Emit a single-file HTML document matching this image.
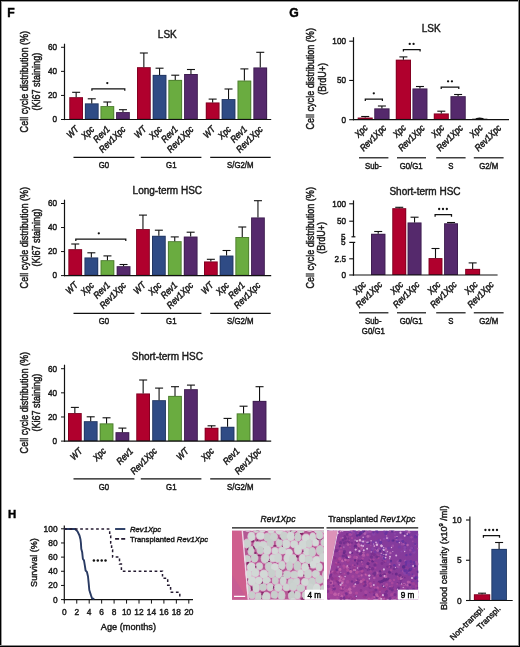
<!DOCTYPE html>
<html><head><meta charset="utf-8"><style>
html,body{margin:0;padding:0;background:#fff;}
body{width:520px;height:647px;overflow:hidden;}
svg{display:block;font-family:"Liberation Sans", sans-serif;}
#w{width:520px;height:647px;will-change:transform;}
</style></head><body><div id="w">
<svg width="520" height="647" viewBox="0 0 520 647">
<rect x="0" y="0" width="520" height="647" fill="#fff"/>
<rect x="69.30" y="97.20" width="13.70" height="22.30" fill="#b0002d"/>
<rect x="69.75" y="97.65" width="12.80" height="21.40" fill="none" stroke="#000" stroke-opacity="0.28" stroke-width="0.9"/>
<line x1="76.15" y1="97.20" x2="76.15" y2="92.30" stroke="#111" stroke-width="1.1" />
<line x1="72.15" y1="92.30" x2="80.15" y2="92.30" stroke="#111" stroke-width="1.1" />
<rect x="84.90" y="103.40" width="13.70" height="16.10" fill="#2f4b85"/>
<rect x="85.35" y="103.85" width="12.80" height="15.20" fill="none" stroke="#000" stroke-opacity="0.28" stroke-width="0.9"/>
<line x1="91.75" y1="103.40" x2="91.75" y2="98.80" stroke="#111" stroke-width="1.1" />
<line x1="87.75" y1="98.80" x2="95.75" y2="98.80" stroke="#111" stroke-width="1.1" />
<rect x="100.50" y="106.10" width="13.70" height="13.40" fill="#6aac40"/>
<rect x="100.95" y="106.55" width="12.80" height="12.50" fill="none" stroke="#000" stroke-opacity="0.28" stroke-width="0.9"/>
<line x1="107.35" y1="106.10" x2="107.35" y2="102.00" stroke="#111" stroke-width="1.1" />
<line x1="103.35" y1="102.00" x2="111.35" y2="102.00" stroke="#111" stroke-width="1.1" />
<rect x="116.10" y="112.10" width="13.70" height="7.40" fill="#55296c"/>
<rect x="116.55" y="112.55" width="12.80" height="6.50" fill="none" stroke="#000" stroke-opacity="0.28" stroke-width="0.9"/>
<line x1="122.95" y1="112.10" x2="122.95" y2="109.70" stroke="#111" stroke-width="1.1" />
<line x1="118.95" y1="109.70" x2="126.95" y2="109.70" stroke="#111" stroke-width="1.1" />
<rect x="137.00" y="67.20" width="13.70" height="52.30" fill="#b0002d"/>
<rect x="137.45" y="67.65" width="12.80" height="51.40" fill="none" stroke="#000" stroke-opacity="0.28" stroke-width="0.9"/>
<line x1="143.85" y1="67.20" x2="143.85" y2="53.00" stroke="#111" stroke-width="1.1" />
<line x1="139.85" y1="53.00" x2="147.85" y2="53.00" stroke="#111" stroke-width="1.1" />
<rect x="152.70" y="74.90" width="13.70" height="44.60" fill="#2f4b85"/>
<rect x="153.15" y="75.35" width="12.80" height="43.70" fill="none" stroke="#000" stroke-opacity="0.28" stroke-width="0.9"/>
<line x1="159.55" y1="74.90" x2="159.55" y2="68.20" stroke="#111" stroke-width="1.1" />
<line x1="155.55" y1="68.20" x2="163.55" y2="68.20" stroke="#111" stroke-width="1.1" />
<rect x="168.40" y="79.90" width="13.70" height="39.60" fill="#6aac40"/>
<rect x="168.85" y="80.35" width="12.80" height="38.70" fill="none" stroke="#000" stroke-opacity="0.28" stroke-width="0.9"/>
<line x1="175.25" y1="79.90" x2="175.25" y2="75.20" stroke="#111" stroke-width="1.1" />
<line x1="171.25" y1="75.20" x2="179.25" y2="75.20" stroke="#111" stroke-width="1.1" />
<rect x="184.10" y="74.00" width="13.70" height="45.50" fill="#55296c"/>
<rect x="184.55" y="74.45" width="12.80" height="44.60" fill="none" stroke="#000" stroke-opacity="0.28" stroke-width="0.9"/>
<line x1="190.95" y1="74.00" x2="190.95" y2="69.50" stroke="#111" stroke-width="1.1" />
<line x1="186.95" y1="69.50" x2="194.95" y2="69.50" stroke="#111" stroke-width="1.1" />
<rect x="205.80" y="102.50" width="13.70" height="17.00" fill="#b0002d"/>
<rect x="206.25" y="102.95" width="12.80" height="16.10" fill="none" stroke="#000" stroke-opacity="0.28" stroke-width="0.9"/>
<line x1="212.65" y1="102.50" x2="212.65" y2="99.10" stroke="#111" stroke-width="1.1" />
<line x1="208.65" y1="99.10" x2="216.65" y2="99.10" stroke="#111" stroke-width="1.1" />
<rect x="221.67" y="99.10" width="13.70" height="20.40" fill="#2f4b85"/>
<rect x="222.12" y="99.55" width="12.80" height="19.50" fill="none" stroke="#000" stroke-opacity="0.28" stroke-width="0.9"/>
<line x1="228.52" y1="99.10" x2="228.52" y2="89.00" stroke="#111" stroke-width="1.1" />
<line x1="224.52" y1="89.00" x2="232.52" y2="89.00" stroke="#111" stroke-width="1.1" />
<rect x="237.54" y="80.60" width="13.70" height="38.90" fill="#6aac40"/>
<rect x="237.99" y="81.05" width="12.80" height="38.00" fill="none" stroke="#000" stroke-opacity="0.28" stroke-width="0.9"/>
<line x1="244.39" y1="80.60" x2="244.39" y2="68.90" stroke="#111" stroke-width="1.1" />
<line x1="240.39" y1="68.90" x2="248.39" y2="68.90" stroke="#111" stroke-width="1.1" />
<rect x="253.41" y="67.50" width="13.70" height="52.00" fill="#55296c"/>
<rect x="253.86" y="67.95" width="12.80" height="51.10" fill="none" stroke="#000" stroke-opacity="0.28" stroke-width="0.9"/>
<line x1="260.26" y1="67.50" x2="260.26" y2="52.30" stroke="#111" stroke-width="1.1" />
<line x1="256.26" y1="52.30" x2="264.26" y2="52.30" stroke="#111" stroke-width="1.1" />
<line x1="64.50" y1="43.70" x2="64.50" y2="120.10" stroke="#111" stroke-width="1.2" />
<line x1="63.90" y1="119.50" x2="271.20" y2="119.50" stroke="#111" stroke-width="1.2" />
<line x1="61.00" y1="119.50" x2="64.50" y2="119.50" stroke="#111" stroke-width="1.0" />
<text x="0" y="0" font-size="8.2" text-anchor="end" transform="translate(57.00 122.30) rotate(0) scale(1 1.17)" fill="#1a1a1a" stroke="#1a1a1a" stroke-width="0.42" >0</text>
<line x1="61.00" y1="95.43" x2="64.50" y2="95.43" stroke="#111" stroke-width="1.0" />
<text x="0" y="0" font-size="8.2" text-anchor="end" transform="translate(57.00 98.23) rotate(0) scale(1 1.17)" fill="#1a1a1a" stroke="#1a1a1a" stroke-width="0.42" >20</text>
<line x1="61.00" y1="71.36" x2="64.50" y2="71.36" stroke="#111" stroke-width="1.0" />
<text x="0" y="0" font-size="8.2" text-anchor="end" transform="translate(57.00 74.16) rotate(0) scale(1 1.17)" fill="#1a1a1a" stroke="#1a1a1a" stroke-width="0.42" >40</text>
<line x1="61.00" y1="47.29" x2="64.50" y2="47.29" stroke="#111" stroke-width="1.0" />
<text x="0" y="0" font-size="8.2" text-anchor="end" transform="translate(57.00 50.09) rotate(0) scale(1 1.17)" fill="#1a1a1a" stroke="#1a1a1a" stroke-width="0.42" >60</text>
<text x="0" y="0" font-size="10.0" text-anchor="middle" transform="translate(167.30 38.10) rotate(0) scale(1 1.0)" fill="#1a1a1a" stroke="#1a1a1a" stroke-width="0.42" >LSK</text>
<text x="0" y="0" font-size="9.05" text-anchor="middle" transform="translate(28.20 81.70) rotate(-90) scale(1 1.17)" fill="#1a1a1a" stroke="#1a1a1a" stroke-width="0.42" >Cell cycle distribution (%)</text>
<text x="0" y="0" font-size="9.05" text-anchor="middle" transform="translate(40.20 81.70) rotate(-90) scale(1 1.17)" fill="#1a1a1a" stroke="#1a1a1a" stroke-width="0.42" >(Ki67 staining)</text>
<text x="0" y="0" font-size="8.15" text-anchor="end" font-style="italic" transform="translate(79.35 129.80) rotate(-45) scale(1 1.17)" fill="#1a1a1a" stroke="#1a1a1a" stroke-width="0.42" >WT</text>
<text x="0" y="0" font-size="8.15" text-anchor="end" font-style="italic" transform="translate(94.95 129.80) rotate(-45) scale(1 1.17)" fill="#1a1a1a" stroke="#1a1a1a" stroke-width="0.42" >Xpc</text>
<text x="0" y="0" font-size="8.15" text-anchor="end" font-style="italic" transform="translate(110.55 129.80) rotate(-45) scale(1 1.17)" fill="#1a1a1a" stroke="#1a1a1a" stroke-width="0.42" >Rev1</text>
<text x="0" y="0" font-size="8.15" text-anchor="end" font-style="italic" transform="translate(126.15 129.80) rotate(-45) scale(1 1.17)" fill="#1a1a1a" stroke="#1a1a1a" stroke-width="0.42" >Rev1Xpc</text>
<text x="0" y="0" font-size="8.15" text-anchor="end" font-style="italic" transform="translate(147.05 129.80) rotate(-45) scale(1 1.17)" fill="#1a1a1a" stroke="#1a1a1a" stroke-width="0.42" >WT</text>
<text x="0" y="0" font-size="8.15" text-anchor="end" font-style="italic" transform="translate(162.75 129.80) rotate(-45) scale(1 1.17)" fill="#1a1a1a" stroke="#1a1a1a" stroke-width="0.42" >Xpc</text>
<text x="0" y="0" font-size="8.15" text-anchor="end" font-style="italic" transform="translate(178.45 129.80) rotate(-45) scale(1 1.17)" fill="#1a1a1a" stroke="#1a1a1a" stroke-width="0.42" >Rev1</text>
<text x="0" y="0" font-size="8.15" text-anchor="end" font-style="italic" transform="translate(194.15 129.80) rotate(-45) scale(1 1.17)" fill="#1a1a1a" stroke="#1a1a1a" stroke-width="0.42" >Rev1Xpc</text>
<text x="0" y="0" font-size="8.15" text-anchor="end" font-style="italic" transform="translate(215.85 129.80) rotate(-45) scale(1 1.17)" fill="#1a1a1a" stroke="#1a1a1a" stroke-width="0.42" >WT</text>
<text x="0" y="0" font-size="8.15" text-anchor="end" font-style="italic" transform="translate(231.72 129.80) rotate(-45) scale(1 1.17)" fill="#1a1a1a" stroke="#1a1a1a" stroke-width="0.42" >Xpc</text>
<text x="0" y="0" font-size="8.15" text-anchor="end" font-style="italic" transform="translate(247.59 129.80) rotate(-45) scale(1 1.17)" fill="#1a1a1a" stroke="#1a1a1a" stroke-width="0.42" >Rev1</text>
<text x="0" y="0" font-size="8.15" text-anchor="end" font-style="italic" transform="translate(263.46 129.80) rotate(-45) scale(1 1.17)" fill="#1a1a1a" stroke="#1a1a1a" stroke-width="0.42" >Rev1Xpc</text>
<line x1="73.50" y1="157.30" x2="134.40" y2="157.30" stroke="#111" stroke-width="1.2" />
<line x1="140.80" y1="157.30" x2="201.40" y2="157.30" stroke="#111" stroke-width="1.2" />
<line x1="210.20" y1="157.30" x2="270.70" y2="157.30" stroke="#111" stroke-width="1.2" />
<text x="0" y="0" font-size="7.8" text-anchor="middle" transform="translate(104.00 168.10) rotate(0) scale(1 1.17)" fill="#1a1a1a" stroke="#1a1a1a" stroke-width="0.42" >G0</text>
<text x="0" y="0" font-size="7.8" text-anchor="middle" transform="translate(171.30 168.10) rotate(0) scale(1 1.17)" fill="#1a1a1a" stroke="#1a1a1a" stroke-width="0.42" >G1</text>
<text x="0" y="0" font-size="7.8" text-anchor="middle" transform="translate(240.30 168.10) rotate(0) scale(1 1.17)" fill="#1a1a1a" stroke="#1a1a1a" stroke-width="0.42" >S/G2/M</text>
<rect x="68.40" y="249.20" width="13.70" height="26.40" fill="#b0002d"/>
<rect x="68.85" y="249.65" width="12.80" height="25.50" fill="none" stroke="#000" stroke-opacity="0.28" stroke-width="0.9"/>
<line x1="75.25" y1="249.20" x2="75.25" y2="244.00" stroke="#111" stroke-width="1.1" />
<line x1="71.25" y1="244.00" x2="79.25" y2="244.00" stroke="#111" stroke-width="1.1" />
<rect x="84.50" y="257.50" width="13.70" height="18.10" fill="#2f4b85"/>
<rect x="84.95" y="257.95" width="12.80" height="17.20" fill="none" stroke="#000" stroke-opacity="0.28" stroke-width="0.9"/>
<line x1="91.35" y1="257.50" x2="91.35" y2="252.80" stroke="#111" stroke-width="1.1" />
<line x1="87.35" y1="252.80" x2="95.35" y2="252.80" stroke="#111" stroke-width="1.1" />
<rect x="100.60" y="260.20" width="13.70" height="15.40" fill="#6aac40"/>
<rect x="101.05" y="260.65" width="12.80" height="14.50" fill="none" stroke="#000" stroke-opacity="0.28" stroke-width="0.9"/>
<line x1="107.45" y1="260.20" x2="107.45" y2="255.90" stroke="#111" stroke-width="1.1" />
<line x1="103.45" y1="255.90" x2="111.45" y2="255.90" stroke="#111" stroke-width="1.1" />
<rect x="116.70" y="266.20" width="13.70" height="9.40" fill="#55296c"/>
<rect x="117.15" y="266.65" width="12.80" height="8.50" fill="none" stroke="#000" stroke-opacity="0.28" stroke-width="0.9"/>
<line x1="123.55" y1="266.20" x2="123.55" y2="264.50" stroke="#111" stroke-width="1.1" />
<line x1="119.55" y1="264.50" x2="127.55" y2="264.50" stroke="#111" stroke-width="1.1" />
<rect x="136.10" y="229.10" width="13.70" height="46.50" fill="#b0002d"/>
<rect x="136.55" y="229.55" width="12.80" height="45.60" fill="none" stroke="#000" stroke-opacity="0.28" stroke-width="0.9"/>
<line x1="142.95" y1="229.10" x2="142.95" y2="215.10" stroke="#111" stroke-width="1.1" />
<line x1="138.95" y1="215.10" x2="146.95" y2="215.10" stroke="#111" stroke-width="1.1" />
<rect x="152.00" y="235.80" width="13.70" height="39.80" fill="#2f4b85"/>
<rect x="152.45" y="236.25" width="12.80" height="38.90" fill="none" stroke="#000" stroke-opacity="0.28" stroke-width="0.9"/>
<line x1="158.85" y1="235.80" x2="158.85" y2="230.20" stroke="#111" stroke-width="1.1" />
<line x1="154.85" y1="230.20" x2="162.85" y2="230.20" stroke="#111" stroke-width="1.1" />
<rect x="167.90" y="241.20" width="13.70" height="34.40" fill="#6aac40"/>
<rect x="168.35" y="241.65" width="12.80" height="33.50" fill="none" stroke="#000" stroke-opacity="0.28" stroke-width="0.9"/>
<line x1="174.75" y1="241.20" x2="174.75" y2="236.90" stroke="#111" stroke-width="1.1" />
<line x1="170.75" y1="236.90" x2="178.75" y2="236.90" stroke="#111" stroke-width="1.1" />
<rect x="183.80" y="236.60" width="13.70" height="39.00" fill="#55296c"/>
<rect x="184.25" y="237.05" width="12.80" height="38.10" fill="none" stroke="#000" stroke-opacity="0.28" stroke-width="0.9"/>
<line x1="190.65" y1="236.60" x2="190.65" y2="232.20" stroke="#111" stroke-width="1.1" />
<line x1="186.65" y1="232.20" x2="194.65" y2="232.20" stroke="#111" stroke-width="1.1" />
<rect x="204.00" y="261.50" width="13.70" height="14.10" fill="#b0002d"/>
<rect x="204.45" y="261.95" width="12.80" height="13.20" fill="none" stroke="#000" stroke-opacity="0.28" stroke-width="0.9"/>
<line x1="210.85" y1="261.50" x2="210.85" y2="259.30" stroke="#111" stroke-width="1.1" />
<line x1="206.85" y1="259.30" x2="214.85" y2="259.30" stroke="#111" stroke-width="1.1" />
<rect x="219.70" y="255.60" width="13.70" height="20.00" fill="#2f4b85"/>
<rect x="220.15" y="256.05" width="12.80" height="19.10" fill="none" stroke="#000" stroke-opacity="0.28" stroke-width="0.9"/>
<line x1="226.55" y1="255.60" x2="226.55" y2="250.50" stroke="#111" stroke-width="1.1" />
<line x1="222.55" y1="250.50" x2="230.55" y2="250.50" stroke="#111" stroke-width="1.1" />
<rect x="235.40" y="237.00" width="13.70" height="38.60" fill="#6aac40"/>
<rect x="235.85" y="237.45" width="12.80" height="37.70" fill="none" stroke="#000" stroke-opacity="0.28" stroke-width="0.9"/>
<line x1="242.25" y1="237.00" x2="242.25" y2="227.00" stroke="#111" stroke-width="1.1" />
<line x1="238.25" y1="227.00" x2="246.25" y2="227.00" stroke="#111" stroke-width="1.1" />
<rect x="251.10" y="217.50" width="13.70" height="58.10" fill="#55296c"/>
<rect x="251.55" y="217.95" width="12.80" height="57.20" fill="none" stroke="#000" stroke-opacity="0.28" stroke-width="0.9"/>
<line x1="257.95" y1="217.50" x2="257.95" y2="200.70" stroke="#111" stroke-width="1.1" />
<line x1="253.95" y1="200.70" x2="261.95" y2="200.70" stroke="#111" stroke-width="1.1" />
<line x1="64.50" y1="199.70" x2="64.50" y2="276.20" stroke="#111" stroke-width="1.2" />
<line x1="63.90" y1="275.60" x2="271.20" y2="275.60" stroke="#111" stroke-width="1.2" />
<line x1="61.00" y1="275.60" x2="64.50" y2="275.60" stroke="#111" stroke-width="1.0" />
<text x="0" y="0" font-size="8.2" text-anchor="end" transform="translate(57.00 278.40) rotate(0) scale(1 1.17)" fill="#1a1a1a" stroke="#1a1a1a" stroke-width="0.42" >0</text>
<line x1="61.00" y1="251.57" x2="64.50" y2="251.57" stroke="#111" stroke-width="1.0" />
<text x="0" y="0" font-size="8.2" text-anchor="end" transform="translate(57.00 254.37) rotate(0) scale(1 1.17)" fill="#1a1a1a" stroke="#1a1a1a" stroke-width="0.42" >20</text>
<line x1="61.00" y1="227.54" x2="64.50" y2="227.54" stroke="#111" stroke-width="1.0" />
<text x="0" y="0" font-size="8.2" text-anchor="end" transform="translate(57.00 230.34) rotate(0) scale(1 1.17)" fill="#1a1a1a" stroke="#1a1a1a" stroke-width="0.42" >40</text>
<line x1="61.00" y1="203.51" x2="64.50" y2="203.51" stroke="#111" stroke-width="1.0" />
<text x="0" y="0" font-size="8.2" text-anchor="end" transform="translate(57.00 206.31) rotate(0) scale(1 1.17)" fill="#1a1a1a" stroke="#1a1a1a" stroke-width="0.42" >60</text>
<text x="0" y="0" font-size="10.0" text-anchor="middle" transform="translate(167.30 194.30) rotate(0) scale(1 1.0)" fill="#1a1a1a" stroke="#1a1a1a" stroke-width="0.42" >Long-term HSC</text>
<text x="0" y="0" font-size="9.05" text-anchor="middle" transform="translate(28.20 237.70) rotate(-90) scale(1 1.17)" fill="#1a1a1a" stroke="#1a1a1a" stroke-width="0.42" >Cell cycle distribution (%)</text>
<text x="0" y="0" font-size="9.05" text-anchor="middle" transform="translate(40.20 237.70) rotate(-90) scale(1 1.17)" fill="#1a1a1a" stroke="#1a1a1a" stroke-width="0.42" >(Ki67 staining)</text>
<text x="0" y="0" font-size="8.15" text-anchor="end" font-style="italic" transform="translate(78.45 285.80) rotate(-45) scale(1 1.17)" fill="#1a1a1a" stroke="#1a1a1a" stroke-width="0.42" >WT</text>
<text x="0" y="0" font-size="8.15" text-anchor="end" font-style="italic" transform="translate(94.55 285.80) rotate(-45) scale(1 1.17)" fill="#1a1a1a" stroke="#1a1a1a" stroke-width="0.42" >Xpc</text>
<text x="0" y="0" font-size="8.15" text-anchor="end" font-style="italic" transform="translate(110.65 285.80) rotate(-45) scale(1 1.17)" fill="#1a1a1a" stroke="#1a1a1a" stroke-width="0.42" >Rev1</text>
<text x="0" y="0" font-size="8.15" text-anchor="end" font-style="italic" transform="translate(126.75 285.80) rotate(-45) scale(1 1.17)" fill="#1a1a1a" stroke="#1a1a1a" stroke-width="0.42" >Rev1Xpc</text>
<text x="0" y="0" font-size="8.15" text-anchor="end" font-style="italic" transform="translate(146.15 285.80) rotate(-45) scale(1 1.17)" fill="#1a1a1a" stroke="#1a1a1a" stroke-width="0.42" >WT</text>
<text x="0" y="0" font-size="8.15" text-anchor="end" font-style="italic" transform="translate(162.05 285.80) rotate(-45) scale(1 1.17)" fill="#1a1a1a" stroke="#1a1a1a" stroke-width="0.42" >Xpc</text>
<text x="0" y="0" font-size="8.15" text-anchor="end" font-style="italic" transform="translate(177.95 285.80) rotate(-45) scale(1 1.17)" fill="#1a1a1a" stroke="#1a1a1a" stroke-width="0.42" >Rev1</text>
<text x="0" y="0" font-size="8.15" text-anchor="end" font-style="italic" transform="translate(193.85 285.80) rotate(-45) scale(1 1.17)" fill="#1a1a1a" stroke="#1a1a1a" stroke-width="0.42" >Rev1Xpc</text>
<text x="0" y="0" font-size="8.15" text-anchor="end" font-style="italic" transform="translate(214.05 285.80) rotate(-45) scale(1 1.17)" fill="#1a1a1a" stroke="#1a1a1a" stroke-width="0.42" >WT</text>
<text x="0" y="0" font-size="8.15" text-anchor="end" font-style="italic" transform="translate(229.75 285.80) rotate(-45) scale(1 1.17)" fill="#1a1a1a" stroke="#1a1a1a" stroke-width="0.42" >Xpc</text>
<text x="0" y="0" font-size="8.15" text-anchor="end" font-style="italic" transform="translate(245.45 285.80) rotate(-45) scale(1 1.17)" fill="#1a1a1a" stroke="#1a1a1a" stroke-width="0.42" >Rev1</text>
<text x="0" y="0" font-size="8.15" text-anchor="end" font-style="italic" transform="translate(261.15 285.80) rotate(-45) scale(1 1.17)" fill="#1a1a1a" stroke="#1a1a1a" stroke-width="0.42" >Rev1Xpc</text>
<line x1="73.50" y1="313.30" x2="134.40" y2="313.30" stroke="#111" stroke-width="1.2" />
<line x1="140.80" y1="313.30" x2="201.40" y2="313.30" stroke="#111" stroke-width="1.2" />
<line x1="210.20" y1="313.30" x2="270.70" y2="313.30" stroke="#111" stroke-width="1.2" />
<text x="0" y="0" font-size="7.8" text-anchor="middle" transform="translate(104.00 324.10) rotate(0) scale(1 1.17)" fill="#1a1a1a" stroke="#1a1a1a" stroke-width="0.42" >G0</text>
<text x="0" y="0" font-size="7.8" text-anchor="middle" transform="translate(171.30 324.10) rotate(0) scale(1 1.17)" fill="#1a1a1a" stroke="#1a1a1a" stroke-width="0.42" >G1</text>
<text x="0" y="0" font-size="7.8" text-anchor="middle" transform="translate(240.30 324.10) rotate(0) scale(1 1.17)" fill="#1a1a1a" stroke="#1a1a1a" stroke-width="0.42" >S/G2/M</text>
<rect x="68.00" y="413.10" width="13.70" height="28.00" fill="#b0002d"/>
<rect x="68.45" y="413.55" width="12.80" height="27.10" fill="none" stroke="#000" stroke-opacity="0.28" stroke-width="0.9"/>
<line x1="74.85" y1="413.10" x2="74.85" y2="407.40" stroke="#111" stroke-width="1.1" />
<line x1="70.85" y1="407.40" x2="78.85" y2="407.40" stroke="#111" stroke-width="1.1" />
<rect x="83.85" y="421.20" width="13.70" height="19.90" fill="#2f4b85"/>
<rect x="84.30" y="421.65" width="12.80" height="19.00" fill="none" stroke="#000" stroke-opacity="0.28" stroke-width="0.9"/>
<line x1="90.70" y1="421.20" x2="90.70" y2="416.80" stroke="#111" stroke-width="1.1" />
<line x1="86.70" y1="416.80" x2="94.70" y2="416.80" stroke="#111" stroke-width="1.1" />
<rect x="99.70" y="423.40" width="13.70" height="17.70" fill="#6aac40"/>
<rect x="100.15" y="423.85" width="12.80" height="16.80" fill="none" stroke="#000" stroke-opacity="0.28" stroke-width="0.9"/>
<line x1="106.55" y1="423.40" x2="106.55" y2="417.80" stroke="#111" stroke-width="1.1" />
<line x1="102.55" y1="417.80" x2="110.55" y2="417.80" stroke="#111" stroke-width="1.1" />
<rect x="115.55" y="432.20" width="13.70" height="8.90" fill="#55296c"/>
<rect x="116.00" y="432.65" width="12.80" height="8.00" fill="none" stroke="#000" stroke-opacity="0.28" stroke-width="0.9"/>
<line x1="122.40" y1="432.20" x2="122.40" y2="428.10" stroke="#111" stroke-width="1.1" />
<line x1="118.40" y1="428.10" x2="126.40" y2="428.10" stroke="#111" stroke-width="1.1" />
<rect x="136.30" y="393.50" width="13.70" height="47.60" fill="#b0002d"/>
<rect x="136.75" y="393.95" width="12.80" height="46.70" fill="none" stroke="#000" stroke-opacity="0.28" stroke-width="0.9"/>
<line x1="143.15" y1="393.50" x2="143.15" y2="380.00" stroke="#111" stroke-width="1.1" />
<line x1="139.15" y1="380.00" x2="147.15" y2="380.00" stroke="#111" stroke-width="1.1" />
<rect x="152.23" y="400.20" width="13.70" height="40.90" fill="#2f4b85"/>
<rect x="152.68" y="400.65" width="12.80" height="40.00" fill="none" stroke="#000" stroke-opacity="0.28" stroke-width="0.9"/>
<line x1="159.08" y1="400.20" x2="159.08" y2="388.10" stroke="#111" stroke-width="1.1" />
<line x1="155.08" y1="388.10" x2="163.08" y2="388.10" stroke="#111" stroke-width="1.1" />
<rect x="168.16" y="395.90" width="13.70" height="45.20" fill="#6aac40"/>
<rect x="168.61" y="396.35" width="12.80" height="44.30" fill="none" stroke="#000" stroke-opacity="0.28" stroke-width="0.9"/>
<line x1="175.01" y1="395.90" x2="175.01" y2="386.70" stroke="#111" stroke-width="1.1" />
<line x1="171.01" y1="386.70" x2="179.01" y2="386.70" stroke="#111" stroke-width="1.1" />
<rect x="184.09" y="389.20" width="13.70" height="51.90" fill="#55296c"/>
<rect x="184.54" y="389.65" width="12.80" height="51.00" fill="none" stroke="#000" stroke-opacity="0.28" stroke-width="0.9"/>
<line x1="190.94" y1="389.20" x2="190.94" y2="385.10" stroke="#111" stroke-width="1.1" />
<line x1="186.94" y1="385.10" x2="194.94" y2="385.10" stroke="#111" stroke-width="1.1" />
<rect x="204.70" y="427.80" width="13.70" height="13.30" fill="#b0002d"/>
<rect x="205.15" y="428.25" width="12.80" height="12.40" fill="none" stroke="#000" stroke-opacity="0.28" stroke-width="0.9"/>
<line x1="211.55" y1="427.80" x2="211.55" y2="425.80" stroke="#111" stroke-width="1.1" />
<line x1="207.55" y1="425.80" x2="215.55" y2="425.80" stroke="#111" stroke-width="1.1" />
<rect x="220.70" y="426.80" width="13.70" height="14.30" fill="#2f4b85"/>
<rect x="221.15" y="427.25" width="12.80" height="13.40" fill="none" stroke="#000" stroke-opacity="0.28" stroke-width="0.9"/>
<line x1="227.55" y1="426.80" x2="227.55" y2="418.40" stroke="#111" stroke-width="1.1" />
<line x1="223.55" y1="418.40" x2="231.55" y2="418.40" stroke="#111" stroke-width="1.1" />
<rect x="236.70" y="413.40" width="13.70" height="27.70" fill="#6aac40"/>
<rect x="237.15" y="413.85" width="12.80" height="26.80" fill="none" stroke="#000" stroke-opacity="0.28" stroke-width="0.9"/>
<line x1="243.55" y1="413.40" x2="243.55" y2="406.20" stroke="#111" stroke-width="1.1" />
<line x1="239.55" y1="406.20" x2="247.55" y2="406.20" stroke="#111" stroke-width="1.1" />
<rect x="252.70" y="400.90" width="13.70" height="40.20" fill="#55296c"/>
<rect x="253.15" y="401.35" width="12.80" height="39.30" fill="none" stroke="#000" stroke-opacity="0.28" stroke-width="0.9"/>
<line x1="259.55" y1="400.90" x2="259.55" y2="386.70" stroke="#111" stroke-width="1.1" />
<line x1="255.55" y1="386.70" x2="263.55" y2="386.70" stroke="#111" stroke-width="1.1" />
<line x1="64.50" y1="364.70" x2="64.50" y2="441.70" stroke="#111" stroke-width="1.2" />
<line x1="63.90" y1="441.10" x2="271.20" y2="441.10" stroke="#111" stroke-width="1.2" />
<line x1="61.00" y1="441.10" x2="64.50" y2="441.10" stroke="#111" stroke-width="1.0" />
<text x="0" y="0" font-size="8.2" text-anchor="end" transform="translate(57.00 443.90) rotate(0) scale(1 1.17)" fill="#1a1a1a" stroke="#1a1a1a" stroke-width="0.42" >0</text>
<line x1="61.00" y1="416.97" x2="64.50" y2="416.97" stroke="#111" stroke-width="1.0" />
<text x="0" y="0" font-size="8.2" text-anchor="end" transform="translate(57.00 419.77) rotate(0) scale(1 1.17)" fill="#1a1a1a" stroke="#1a1a1a" stroke-width="0.42" >20</text>
<line x1="61.00" y1="392.84" x2="64.50" y2="392.84" stroke="#111" stroke-width="1.0" />
<text x="0" y="0" font-size="8.2" text-anchor="end" transform="translate(57.00 395.64) rotate(0) scale(1 1.17)" fill="#1a1a1a" stroke="#1a1a1a" stroke-width="0.42" >40</text>
<line x1="61.00" y1="368.71" x2="64.50" y2="368.71" stroke="#111" stroke-width="1.0" />
<text x="0" y="0" font-size="8.2" text-anchor="end" transform="translate(57.00 371.51) rotate(0) scale(1 1.17)" fill="#1a1a1a" stroke="#1a1a1a" stroke-width="0.42" >60</text>
<text x="0" y="0" font-size="10.0" text-anchor="middle" transform="translate(167.30 359.90) rotate(0) scale(1 1.0)" fill="#1a1a1a" stroke="#1a1a1a" stroke-width="0.42" >Short-term HSC</text>
<text x="0" y="0" font-size="9.05" text-anchor="middle" transform="translate(28.20 402.70) rotate(-90) scale(1 1.17)" fill="#1a1a1a" stroke="#1a1a1a" stroke-width="0.42" >Cell cycle distribution (%)</text>
<text x="0" y="0" font-size="9.05" text-anchor="middle" transform="translate(40.20 402.70) rotate(-90) scale(1 1.17)" fill="#1a1a1a" stroke="#1a1a1a" stroke-width="0.42" >(Ki67 staining)</text>
<text x="0" y="0" font-size="8.15" text-anchor="end" font-style="italic" transform="translate(83.00 451.70) rotate(-45) scale(1 1.17)" fill="#1a1a1a" stroke="#1a1a1a" stroke-width="0.42" >WT</text>
<text x="0" y="0" font-size="8.15" text-anchor="end" font-style="italic" transform="translate(106.70 451.70) rotate(-45) scale(1 1.17)" fill="#1a1a1a" stroke="#1a1a1a" stroke-width="0.42" >Xpc</text>
<text x="0" y="0" font-size="8.15" text-anchor="end" font-style="italic" transform="translate(133.70 451.70) rotate(-45) scale(1 1.17)" fill="#1a1a1a" stroke="#1a1a1a" stroke-width="0.42" >Rev1</text>
<text x="0" y="0" font-size="8.15" text-anchor="end" font-style="italic" transform="translate(157.70 451.70) rotate(-45) scale(1 1.17)" fill="#1a1a1a" stroke="#1a1a1a" stroke-width="0.42" >Rev1Xpc</text>
<text x="0" y="0" font-size="8.15" text-anchor="end" font-style="italic" transform="translate(189.20 451.70) rotate(-45) scale(1 1.17)" fill="#1a1a1a" stroke="#1a1a1a" stroke-width="0.42" >WT</text>
<text x="0" y="0" font-size="8.15" text-anchor="end" font-style="italic" transform="translate(214.70 451.70) rotate(-45) scale(1 1.17)" fill="#1a1a1a" stroke="#1a1a1a" stroke-width="0.42" >Xpc</text>
<text x="0" y="0" font-size="8.15" text-anchor="end" font-style="italic" transform="translate(240.10 451.70) rotate(-45) scale(1 1.17)" fill="#1a1a1a" stroke="#1a1a1a" stroke-width="0.42" >Rev1</text>
<text x="0" y="0" font-size="8.15" text-anchor="end" font-style="italic" transform="translate(261.80 451.70) rotate(-45) scale(1 1.17)" fill="#1a1a1a" stroke="#1a1a1a" stroke-width="0.42" >Rev1Xpc</text>
<line x1="73.50" y1="478.90" x2="134.40" y2="478.90" stroke="#111" stroke-width="1.2" />
<line x1="140.80" y1="478.90" x2="201.40" y2="478.90" stroke="#111" stroke-width="1.2" />
<line x1="210.20" y1="478.90" x2="270.70" y2="478.90" stroke="#111" stroke-width="1.2" />
<text x="0" y="0" font-size="7.8" text-anchor="middle" transform="translate(104.00 489.70) rotate(0) scale(1 1.17)" fill="#1a1a1a" stroke="#1a1a1a" stroke-width="0.42" >G0</text>
<text x="0" y="0" font-size="7.8" text-anchor="middle" transform="translate(171.30 489.70) rotate(0) scale(1 1.17)" fill="#1a1a1a" stroke="#1a1a1a" stroke-width="0.42" >G1</text>
<text x="0" y="0" font-size="7.8" text-anchor="middle" transform="translate(240.30 489.70) rotate(0) scale(1 1.17)" fill="#1a1a1a" stroke="#1a1a1a" stroke-width="0.42" >S/G2/M</text>
<path d="M91.90 90.80 L91.90 88.80 L124.80 88.80 L124.80 90.80" fill="none" stroke="#111" stroke-width="1.25"/>
<circle cx="107.30" cy="83.10" r="1.15" fill="#111"/>
<path d="M75.80 241.00 L75.80 239.00 L125.80 239.00 L125.80 241.00" fill="none" stroke="#111" stroke-width="1.25"/>
<circle cx="98.80" cy="233.30" r="1.15" fill="#111"/>
<text x="0" y="0" font-size="12.2" text-anchor="start" font-weight="bold" transform="translate(7.20 16.70) rotate(0) scale(1 1.0)" fill="#000" stroke="#000" stroke-width="0.42" >F</text>
<text x="0" y="0" font-size="12.2" text-anchor="start" font-weight="bold" transform="translate(289.30 16.70) rotate(0) scale(1 1.0)" fill="#000" stroke="#000" stroke-width="0.42" >G</text>
<text x="0" y="0" font-size="11.4" text-anchor="start" font-weight="bold" transform="translate(8.00 518.30) rotate(0) scale(1 1.0)" fill="#000" stroke="#000" stroke-width="0.42" >H</text>
<rect x="472.20" y="118.70" width="15.20" height="1.10" fill="#111"/>
<path d="M474.5 119.5 Q476 117.6 479.6 117.5 Q483.4 117.6 484.8 119.5 Z" fill="#111"/>
<rect x="357.70" y="117.60" width="15.00" height="2.10" fill="#b0002d"/>
<rect x="358.15" y="118.05" width="14.10" height="1.20" fill="none" stroke="#000" stroke-opacity="0.28" stroke-width="0.9"/>
<line x1="365.20" y1="117.60" x2="365.20" y2="116.50" stroke="#111" stroke-width="1.1" />
<line x1="361.20" y1="116.50" x2="369.20" y2="116.50" stroke="#111" stroke-width="1.1" />
<rect x="374.30" y="108.40" width="15.20" height="11.30" fill="#55296c"/>
<rect x="374.75" y="108.85" width="14.30" height="10.40" fill="none" stroke="#000" stroke-opacity="0.28" stroke-width="0.9"/>
<line x1="381.90" y1="108.40" x2="381.90" y2="106.00" stroke="#111" stroke-width="1.1" />
<line x1="377.90" y1="106.00" x2="385.90" y2="106.00" stroke="#111" stroke-width="1.1" />
<rect x="395.80" y="59.70" width="15.20" height="60.00" fill="#b0002d"/>
<rect x="396.25" y="60.15" width="14.30" height="59.10" fill="none" stroke="#000" stroke-opacity="0.28" stroke-width="0.9"/>
<line x1="403.40" y1="59.70" x2="403.40" y2="56.90" stroke="#111" stroke-width="1.1" />
<line x1="399.40" y1="56.90" x2="407.40" y2="56.90" stroke="#111" stroke-width="1.1" />
<rect x="412.50" y="88.50" width="14.90" height="31.20" fill="#55296c"/>
<rect x="412.95" y="88.95" width="14.00" height="30.30" fill="none" stroke="#000" stroke-opacity="0.28" stroke-width="0.9"/>
<line x1="419.95" y1="88.50" x2="419.95" y2="86.50" stroke="#111" stroke-width="1.1" />
<line x1="415.95" y1="86.50" x2="423.95" y2="86.50" stroke="#111" stroke-width="1.1" />
<rect x="433.80" y="113.50" width="15.00" height="6.20" fill="#b0002d"/>
<rect x="434.25" y="113.95" width="14.10" height="5.30" fill="none" stroke="#000" stroke-opacity="0.28" stroke-width="0.9"/>
<line x1="441.30" y1="113.50" x2="441.30" y2="111.20" stroke="#111" stroke-width="1.1" />
<line x1="437.30" y1="111.20" x2="445.30" y2="111.20" stroke="#111" stroke-width="1.1" />
<rect x="450.50" y="96.20" width="15.20" height="23.50" fill="#55296c"/>
<rect x="450.95" y="96.65" width="14.30" height="22.60" fill="none" stroke="#000" stroke-opacity="0.28" stroke-width="0.9"/>
<line x1="458.10" y1="96.20" x2="458.10" y2="94.50" stroke="#111" stroke-width="1.1" />
<line x1="454.10" y1="94.50" x2="462.10" y2="94.50" stroke="#111" stroke-width="1.1" />
<line x1="353.50" y1="37.20" x2="353.50" y2="120.30" stroke="#111" stroke-width="1.2" />
<line x1="352.90" y1="119.70" x2="509.00" y2="119.70" stroke="#111" stroke-width="1.2" />
<line x1="349.20" y1="41.20" x2="353.50" y2="41.20" stroke="#111" stroke-width="1.1" />
<text x="0" y="0" font-size="8.2" text-anchor="end" transform="translate(346.00 44.20) rotate(0) scale(1 1.17)" fill="#1a1a1a" stroke="#1a1a1a" stroke-width="0.42" >100</text>
<line x1="349.20" y1="80.45" x2="353.50" y2="80.45" stroke="#111" stroke-width="1.1" />
<text x="0" y="0" font-size="8.2" text-anchor="end" transform="translate(346.00 83.45) rotate(0) scale(1 1.17)" fill="#1a1a1a" stroke="#1a1a1a" stroke-width="0.42" >50</text>
<line x1="349.20" y1="119.70" x2="353.50" y2="119.70" stroke="#111" stroke-width="1.1" />
<text x="0" y="0" font-size="8.2" text-anchor="end" transform="translate(346.00 122.70) rotate(0) scale(1 1.17)" fill="#1a1a1a" stroke="#1a1a1a" stroke-width="0.42" >0</text>
<text x="0" y="0" font-size="10.0" text-anchor="middle" transform="translate(431.10 31.90) rotate(0) scale(1 1.0)" fill="#1a1a1a" stroke="#1a1a1a" stroke-width="0.42" >LSK</text>
<text x="0" y="0" font-size="9.05" text-anchor="middle" transform="translate(313.60 78.80) rotate(-90) scale(1 1.17)" fill="#1a1a1a" stroke="#1a1a1a" stroke-width="0.42" >Cell cycle distribution (%)</text>
<text x="0" y="0" font-size="9.05" text-anchor="middle" transform="translate(325.80 78.80) rotate(-90) scale(1 1.17)" fill="#1a1a1a" stroke="#1a1a1a" stroke-width="0.42" >(BrdU+)</text>
<text x="0" y="0" font-size="8.15" text-anchor="end" font-style="italic" transform="translate(368.40 128.40) rotate(-45) scale(1 1.17)" fill="#1a1a1a" stroke="#1a1a1a" stroke-width="0.42" >Xpc</text>
<text x="0" y="0" font-size="8.15" text-anchor="end" font-style="italic" transform="translate(387.00 128.50) rotate(-45) scale(1 1.17)" fill="#1a1a1a" stroke="#1a1a1a" stroke-width="0.42" >Rev1Xpc</text>
<text x="0" y="0" font-size="8.15" text-anchor="end" font-style="italic" transform="translate(406.70 128.40) rotate(-45) scale(1 1.17)" fill="#1a1a1a" stroke="#1a1a1a" stroke-width="0.42" >Xpc</text>
<text x="0" y="0" font-size="8.15" text-anchor="end" font-style="italic" transform="translate(425.30 128.50) rotate(-45) scale(1 1.17)" fill="#1a1a1a" stroke="#1a1a1a" stroke-width="0.42" >Rev1Xpc</text>
<text x="0" y="0" font-size="8.15" text-anchor="end" font-style="italic" transform="translate(445.00 128.40) rotate(-45) scale(1 1.17)" fill="#1a1a1a" stroke="#1a1a1a" stroke-width="0.42" >Xpc</text>
<text x="0" y="0" font-size="8.15" text-anchor="end" font-style="italic" transform="translate(463.60 128.50) rotate(-45) scale(1 1.17)" fill="#1a1a1a" stroke="#1a1a1a" stroke-width="0.42" >Rev1Xpc</text>
<text x="0" y="0" font-size="8.15" text-anchor="end" font-style="italic" transform="translate(483.30 128.40) rotate(-45) scale(1 1.17)" fill="#1a1a1a" stroke="#1a1a1a" stroke-width="0.42" >Xpc</text>
<text x="0" y="0" font-size="8.15" text-anchor="end" font-style="italic" transform="translate(501.90 128.50) rotate(-45) scale(1 1.17)" fill="#1a1a1a" stroke="#1a1a1a" stroke-width="0.42" >Rev1Xpc</text>
<line x1="359.00" y1="157.80" x2="388.40" y2="157.80" stroke="#111" stroke-width="1.2" />
<line x1="397.00" y1="157.80" x2="426.00" y2="157.80" stroke="#111" stroke-width="1.2" />
<line x1="436.20" y1="157.80" x2="465.60" y2="157.80" stroke="#111" stroke-width="1.2" />
<line x1="473.80" y1="157.80" x2="503.60" y2="157.80" stroke="#111" stroke-width="1.2" />
<text x="0" y="0" font-size="7.8" text-anchor="middle" transform="translate(373.30 168.60) rotate(0) scale(1 1.17)" fill="#1a1a1a" stroke="#1a1a1a" stroke-width="0.42" >Sub-</text>
<text x="0" y="0" font-size="7.8" text-anchor="middle" transform="translate(411.20 168.60) rotate(0) scale(1 1.17)" fill="#1a1a1a" stroke="#1a1a1a" stroke-width="0.42" >G0/G1</text>
<text x="0" y="0" font-size="7.8" text-anchor="middle" transform="translate(450.90 168.60) rotate(0) scale(1 1.17)" fill="#1a1a1a" stroke="#1a1a1a" stroke-width="0.42" >S</text>
<text x="0" y="0" font-size="7.8" text-anchor="middle" transform="translate(488.70 168.60) rotate(0) scale(1 1.17)" fill="#1a1a1a" stroke="#1a1a1a" stroke-width="0.42" >G2/M</text>
<path d="M365.30 101.00 L365.30 99.00 L382.40 99.00 L382.40 101.00" fill="none" stroke="#111" stroke-width="1.25"/>
<circle cx="373.80" cy="93.30" r="1.15" fill="#111"/>
<path d="M403.40 51.60 L403.40 49.60 L420.10 49.60 L420.10 51.60" fill="none" stroke="#111" stroke-width="1.25"/>
<circle cx="409.72" cy="43.90" r="1.15" fill="#111"/>
<circle cx="413.57" cy="43.90" r="1.15" fill="#111"/>
<path d="M441.20 89.00 L441.20 87.00 L458.80 87.00 L458.80 89.00" fill="none" stroke="#111" stroke-width="1.25"/>
<circle cx="448.07" cy="81.30" r="1.15" fill="#111"/>
<circle cx="451.93" cy="81.30" r="1.15" fill="#111"/>
<rect x="371.00" y="233.80" width="14.40" height="41.20" fill="#55296c"/>
<rect x="371.45" y="234.25" width="13.50" height="40.30" fill="none" stroke="#000" stroke-opacity="0.28" stroke-width="0.9"/>
<line x1="378.20" y1="233.80" x2="378.20" y2="231.50" stroke="#111" stroke-width="1.1" />
<line x1="374.20" y1="231.50" x2="382.20" y2="231.50" stroke="#111" stroke-width="1.1" />
<rect x="392.30" y="208.20" width="13.90" height="66.80" fill="#b0002d"/>
<rect x="392.75" y="208.65" width="13.00" height="65.90" fill="none" stroke="#000" stroke-opacity="0.28" stroke-width="0.9"/>
<line x1="399.25" y1="208.20" x2="399.25" y2="207.30" stroke="#111" stroke-width="1.1" />
<line x1="395.25" y1="207.30" x2="403.25" y2="207.30" stroke="#111" stroke-width="1.1" />
<rect x="407.60" y="222.50" width="13.90" height="52.50" fill="#55296c"/>
<rect x="408.05" y="222.95" width="13.00" height="51.60" fill="none" stroke="#000" stroke-opacity="0.28" stroke-width="0.9"/>
<line x1="414.55" y1="222.50" x2="414.55" y2="217.20" stroke="#111" stroke-width="1.1" />
<line x1="410.55" y1="217.20" x2="418.55" y2="217.20" stroke="#111" stroke-width="1.1" />
<rect x="428.60" y="258.10" width="13.80" height="16.90" fill="#b0002d"/>
<rect x="429.05" y="258.55" width="12.90" height="16.00" fill="none" stroke="#000" stroke-opacity="0.28" stroke-width="0.9"/>
<line x1="435.50" y1="258.10" x2="435.50" y2="248.50" stroke="#111" stroke-width="1.1" />
<line x1="431.50" y1="248.50" x2="439.50" y2="248.50" stroke="#111" stroke-width="1.1" />
<rect x="444.10" y="223.30" width="13.90" height="51.70" fill="#55296c"/>
<rect x="444.55" y="223.75" width="13.00" height="50.80" fill="none" stroke="#000" stroke-opacity="0.28" stroke-width="0.9"/>
<line x1="451.05" y1="223.30" x2="451.05" y2="222.50" stroke="#111" stroke-width="1.1" />
<line x1="447.05" y1="222.50" x2="455.05" y2="222.50" stroke="#111" stroke-width="1.1" />
<rect x="465.20" y="268.90" width="14.90" height="6.10" fill="#b0002d"/>
<rect x="465.65" y="269.35" width="14.00" height="5.20" fill="none" stroke="#000" stroke-opacity="0.28" stroke-width="0.9"/>
<line x1="472.65" y1="268.90" x2="472.65" y2="262.90" stroke="#111" stroke-width="1.1" />
<line x1="468.65" y1="262.90" x2="476.65" y2="262.90" stroke="#111" stroke-width="1.1" />
<line x1="353.50" y1="200.40" x2="353.50" y2="236.80" stroke="#111" stroke-width="1.2" />
<line x1="351.50" y1="236.80" x2="355.40" y2="236.80" stroke="#111" stroke-width="1.2" />
<line x1="353.50" y1="242.30" x2="353.50" y2="275.60" stroke="#111" stroke-width="1.2" />
<line x1="349.30" y1="242.40" x2="355.20" y2="242.40" stroke="#111" stroke-width="1.2" />
<line x1="352.90" y1="275.00" x2="497.60" y2="275.00" stroke="#111" stroke-width="1.2" />
<line x1="349.20" y1="203.80" x2="353.50" y2="203.80" stroke="#111" stroke-width="1.1" />
<text x="0" y="0" font-size="8.2" text-anchor="end" transform="translate(346.00 206.80) rotate(0) scale(1 1.17)" fill="#1a1a1a" stroke="#1a1a1a" stroke-width="0.42" >100</text>
<line x1="349.20" y1="221.20" x2="353.50" y2="221.20" stroke="#111" stroke-width="1.1" />
<text x="0" y="0" font-size="8.2" text-anchor="end" transform="translate(346.00 224.20) rotate(0) scale(1 1.17)" fill="#1a1a1a" stroke="#1a1a1a" stroke-width="0.42" >50</text>
<line x1="349.20" y1="258.80" x2="353.50" y2="258.80" stroke="#111" stroke-width="1.1" />
<text x="0" y="0" font-size="8.2" text-anchor="end" transform="translate(346.00 261.80) rotate(0) scale(1 1.17)" fill="#1a1a1a" stroke="#1a1a1a" stroke-width="0.42" >2.5</text>
<line x1="349.20" y1="275.00" x2="353.50" y2="275.00" stroke="#111" stroke-width="1.1" />
<text x="0" y="0" font-size="8.2" text-anchor="end" transform="translate(346.00 278.00) rotate(0) scale(1 1.17)" fill="#1a1a1a" stroke="#1a1a1a" stroke-width="0.42" >0</text>
<text x="0" y="0" font-size="8.2" text-anchor="end" transform="translate(345.60 239.60) rotate(0) scale(1 1.17)" fill="#1a1a1a" stroke="#1a1a1a" stroke-width="0.42" >5</text>
<text x="0" y="0" font-size="8.2" text-anchor="end" transform="translate(345.60 245.40) rotate(0) scale(1 1.17)" fill="#1a1a1a" stroke="#1a1a1a" stroke-width="0.42" >5</text>
<text x="0" y="0" font-size="10.0" text-anchor="middle" transform="translate(425.00 195.00) rotate(0) scale(1 1.0)" fill="#1a1a1a" stroke="#1a1a1a" stroke-width="0.42" >Short-term HSC</text>
<text x="0" y="0" font-size="9.05" text-anchor="middle" transform="translate(313.60 237.80) rotate(-90) scale(1 1.17)" fill="#1a1a1a" stroke="#1a1a1a" stroke-width="0.42" >Cell cycle distribution (%)</text>
<text x="0" y="0" font-size="9.05" text-anchor="middle" transform="translate(325.00 237.90) rotate(-90) scale(1 1.17)" fill="#1a1a1a" stroke="#1a1a1a" stroke-width="0.42" >(BrdU+)</text>
<text x="0" y="0" font-size="8.15" text-anchor="end" font-style="italic" transform="translate(366.70 285.00) rotate(-45) scale(1 1.17)" fill="#1a1a1a" stroke="#1a1a1a" stroke-width="0.42" >Xpc</text>
<text x="0" y="0" font-size="8.15" text-anchor="end" font-style="italic" transform="translate(382.90 285.10) rotate(-45) scale(1 1.17)" fill="#1a1a1a" stroke="#1a1a1a" stroke-width="0.42" >Rev1Xpc</text>
<text x="0" y="0" font-size="8.15" text-anchor="end" font-style="italic" transform="translate(403.90 285.00) rotate(-45) scale(1 1.17)" fill="#1a1a1a" stroke="#1a1a1a" stroke-width="0.42" >Xpc</text>
<text x="0" y="0" font-size="8.15" text-anchor="end" font-style="italic" transform="translate(420.10 285.10) rotate(-45) scale(1 1.17)" fill="#1a1a1a" stroke="#1a1a1a" stroke-width="0.42" >Rev1Xpc</text>
<text x="0" y="0" font-size="8.15" text-anchor="end" font-style="italic" transform="translate(441.10 285.00) rotate(-45) scale(1 1.17)" fill="#1a1a1a" stroke="#1a1a1a" stroke-width="0.42" >Xpc</text>
<text x="0" y="0" font-size="8.15" text-anchor="end" font-style="italic" transform="translate(457.30 285.10) rotate(-45) scale(1 1.17)" fill="#1a1a1a" stroke="#1a1a1a" stroke-width="0.42" >Rev1Xpc</text>
<text x="0" y="0" font-size="8.15" text-anchor="end" font-style="italic" transform="translate(478.30 285.00) rotate(-45) scale(1 1.17)" fill="#1a1a1a" stroke="#1a1a1a" stroke-width="0.42" >Xpc</text>
<text x="0" y="0" font-size="8.15" text-anchor="end" font-style="italic" transform="translate(494.50 285.10) rotate(-45) scale(1 1.17)" fill="#1a1a1a" stroke="#1a1a1a" stroke-width="0.42" >Rev1Xpc</text>
<line x1="359.00" y1="312.80" x2="388.40" y2="312.80" stroke="#111" stroke-width="1.2" />
<line x1="397.00" y1="312.80" x2="426.00" y2="312.80" stroke="#111" stroke-width="1.2" />
<line x1="436.20" y1="312.80" x2="465.60" y2="312.80" stroke="#111" stroke-width="1.2" />
<line x1="473.80" y1="312.80" x2="503.60" y2="312.80" stroke="#111" stroke-width="1.2" />
<text x="0" y="0" font-size="7.8" text-anchor="middle" transform="translate(373.30 324.00) rotate(0) scale(1 1.17)" fill="#1a1a1a" stroke="#1a1a1a" stroke-width="0.42" >Sub-</text>
<text x="0" y="0" font-size="7.8" text-anchor="middle" transform="translate(373.30 334.10) rotate(0) scale(1 1.17)" fill="#1a1a1a" stroke="#1a1a1a" stroke-width="0.42" >G0/G1</text>
<text x="0" y="0" font-size="7.8" text-anchor="middle" transform="translate(411.20 324.00) rotate(0) scale(1 1.17)" fill="#1a1a1a" stroke="#1a1a1a" stroke-width="0.42" >G0/G1</text>
<text x="0" y="0" font-size="7.8" text-anchor="middle" transform="translate(450.90 324.00) rotate(0) scale(1 1.17)" fill="#1a1a1a" stroke="#1a1a1a" stroke-width="0.42" >S</text>
<text x="0" y="0" font-size="7.8" text-anchor="middle" transform="translate(488.70 324.00) rotate(0) scale(1 1.17)" fill="#1a1a1a" stroke="#1a1a1a" stroke-width="0.42" >G2/M</text>
<path d="M435.10 216.70 L435.10 214.70 L451.50 214.70 L451.50 216.70" fill="none" stroke="#111" stroke-width="1.25"/>
<circle cx="439.15" cy="209.00" r="1.15" fill="#111"/>
<circle cx="443.00" cy="209.00" r="1.15" fill="#111"/>
<circle cx="446.85" cy="209.00" r="1.15" fill="#111"/>
<line x1="64.30" y1="525.40" x2="64.30" y2="600.20" stroke="#111" stroke-width="1.2" />
<line x1="63.70" y1="599.60" x2="193.00" y2="599.60" stroke="#111" stroke-width="1.2" />
<line x1="61.00" y1="599.60" x2="64.30" y2="599.60" stroke="#111" stroke-width="1.0" />
<text x="0" y="0" font-size="8.4" text-anchor="end" transform="translate(57.60 602.60) rotate(0) scale(1 1.0)" fill="#1a1a1a" stroke="#1a1a1a" stroke-width="0.42" >0</text>
<line x1="61.00" y1="585.44" x2="64.30" y2="585.44" stroke="#111" stroke-width="1.0" />
<text x="0" y="0" font-size="8.4" text-anchor="end" transform="translate(57.60 588.44) rotate(0) scale(1 1.0)" fill="#1a1a1a" stroke="#1a1a1a" stroke-width="0.42" >20</text>
<line x1="61.00" y1="571.28" x2="64.30" y2="571.28" stroke="#111" stroke-width="1.0" />
<text x="0" y="0" font-size="8.4" text-anchor="end" transform="translate(57.60 574.28) rotate(0) scale(1 1.0)" fill="#1a1a1a" stroke="#1a1a1a" stroke-width="0.42" >40</text>
<line x1="61.00" y1="557.12" x2="64.30" y2="557.12" stroke="#111" stroke-width="1.0" />
<text x="0" y="0" font-size="8.4" text-anchor="end" transform="translate(57.60 560.12) rotate(0) scale(1 1.0)" fill="#1a1a1a" stroke="#1a1a1a" stroke-width="0.42" >60</text>
<line x1="61.00" y1="542.96" x2="64.30" y2="542.96" stroke="#111" stroke-width="1.0" />
<text x="0" y="0" font-size="8.4" text-anchor="end" transform="translate(57.60 545.96) rotate(0) scale(1 1.0)" fill="#1a1a1a" stroke="#1a1a1a" stroke-width="0.42" >80</text>
<line x1="61.00" y1="528.80" x2="64.30" y2="528.80" stroke="#111" stroke-width="1.0" />
<text x="0" y="0" font-size="8.4" text-anchor="end" transform="translate(57.60 531.80) rotate(0) scale(1 1.0)" fill="#1a1a1a" stroke="#1a1a1a" stroke-width="0.42" >100</text>
<line x1="64.30" y1="599.60" x2="64.30" y2="603.60" stroke="#111" stroke-width="1.0" />
<text x="0" y="0" font-size="8.4" text-anchor="middle" transform="translate(64.30 614.80) rotate(0) scale(1 1.0)" fill="#1a1a1a" stroke="#1a1a1a" stroke-width="0.42" >0</text>
<line x1="76.75" y1="599.60" x2="76.75" y2="603.60" stroke="#111" stroke-width="1.0" />
<text x="0" y="0" font-size="8.4" text-anchor="middle" transform="translate(76.75 614.80) rotate(0) scale(1 1.0)" fill="#1a1a1a" stroke="#1a1a1a" stroke-width="0.42" >2</text>
<line x1="89.20" y1="599.60" x2="89.20" y2="603.60" stroke="#111" stroke-width="1.0" />
<text x="0" y="0" font-size="8.4" text-anchor="middle" transform="translate(89.20 614.80) rotate(0) scale(1 1.0)" fill="#1a1a1a" stroke="#1a1a1a" stroke-width="0.42" >4</text>
<line x1="101.65" y1="599.60" x2="101.65" y2="603.60" stroke="#111" stroke-width="1.0" />
<text x="0" y="0" font-size="8.4" text-anchor="middle" transform="translate(101.65 614.80) rotate(0) scale(1 1.0)" fill="#1a1a1a" stroke="#1a1a1a" stroke-width="0.42" >6</text>
<line x1="114.10" y1="599.60" x2="114.10" y2="603.60" stroke="#111" stroke-width="1.0" />
<text x="0" y="0" font-size="8.4" text-anchor="middle" transform="translate(114.10 614.80) rotate(0) scale(1 1.0)" fill="#1a1a1a" stroke="#1a1a1a" stroke-width="0.42" >8</text>
<line x1="126.55" y1="599.60" x2="126.55" y2="603.60" stroke="#111" stroke-width="1.0" />
<text x="0" y="0" font-size="8.4" text-anchor="middle" transform="translate(126.55 614.80) rotate(0) scale(1 1.0)" fill="#1a1a1a" stroke="#1a1a1a" stroke-width="0.42" >10</text>
<line x1="139.00" y1="599.60" x2="139.00" y2="603.60" stroke="#111" stroke-width="1.0" />
<text x="0" y="0" font-size="8.4" text-anchor="middle" transform="translate(139.00 614.80) rotate(0) scale(1 1.0)" fill="#1a1a1a" stroke="#1a1a1a" stroke-width="0.42" >12</text>
<line x1="151.45" y1="599.60" x2="151.45" y2="603.60" stroke="#111" stroke-width="1.0" />
<text x="0" y="0" font-size="8.4" text-anchor="middle" transform="translate(151.45 614.80) rotate(0) scale(1 1.0)" fill="#1a1a1a" stroke="#1a1a1a" stroke-width="0.42" >14</text>
<line x1="163.90" y1="599.60" x2="163.90" y2="603.60" stroke="#111" stroke-width="1.0" />
<text x="0" y="0" font-size="8.4" text-anchor="middle" transform="translate(163.90 614.80) rotate(0) scale(1 1.0)" fill="#1a1a1a" stroke="#1a1a1a" stroke-width="0.42" >16</text>
<line x1="176.35" y1="599.60" x2="176.35" y2="603.60" stroke="#111" stroke-width="1.0" />
<text x="0" y="0" font-size="8.4" text-anchor="middle" transform="translate(176.35 614.80) rotate(0) scale(1 1.0)" fill="#1a1a1a" stroke="#1a1a1a" stroke-width="0.42" >18</text>
<line x1="188.80" y1="599.60" x2="188.80" y2="603.60" stroke="#111" stroke-width="1.0" />
<text x="0" y="0" font-size="8.4" text-anchor="middle" transform="translate(188.80 614.80) rotate(0) scale(1 1.0)" fill="#1a1a1a" stroke="#1a1a1a" stroke-width="0.42" >20</text>
<text x="0" y="0" font-size="9.2" text-anchor="middle" transform="translate(128.40 629.90) rotate(0) scale(1 1.0)" fill="#1a1a1a" stroke="#1a1a1a" stroke-width="0.42" >Age (months)</text>
<text x="0" y="0" font-size="9.05" text-anchor="middle" transform="translate(37.00 562.50) rotate(-90) scale(1 1.0)" fill="#1a1a1a" stroke="#1a1a1a" stroke-width="0.42" >Survival (%)</text>
<polyline points="64.3,529 75.1,529 77.5,531.4 79.5,535.5 80.5,539.5 80.9,542.9 81.3,549 82.2,552.3 82.9,559 84,560.4 84.9,565.8 85.6,570.5 86.9,571.8 88,576.5 88.7,583.3 89.3,590 91,595.4 92,598.3 94.3,598.9" fill="none" stroke="#293a62" stroke-width="1.9" stroke-linejoin="round"/>
<polyline points="64.3,529 109.7,529 109.7,536 110.7,536 110.7,543 111.6,543 111.6,550 112.6,550 112.6,557.1 119.5,557.1 119.5,564 121.4,564 121.4,571.2 162.5,571.2 162.5,578.2 167.7,578.2 167.7,585.2 170.6,585.2 170.6,592.3 179.8,592.3 179.8,599.6" fill="none" stroke="#241a30" stroke-width="1.5" stroke-dasharray="2.7 2.6"/>
<circle cx="93.9" cy="560.5" r="1.25" fill="#111"/>
<circle cx="97.8" cy="560.5" r="1.25" fill="#111"/>
<circle cx="101.7" cy="560.5" r="1.25" fill="#111"/>
<circle cx="105.5" cy="560.5" r="1.25" fill="#111"/>
<line x1="115.10" y1="529.00" x2="125.30" y2="529.00" stroke="#293a62" stroke-width="1.9" />
<text x="0" y="0" font-size="7.7" text-anchor="start" font-style="italic" transform="translate(130.00 531.70) rotate(0) scale(1 1.0)" fill="#1a1a1a" stroke="#1a1a1a" stroke-width="0.42" >Rev1Xpc</text>
<line x1="115.10" y1="538.90" x2="125.20" y2="538.90" stroke="#241a30" stroke-width="1.6" stroke-dasharray="4 2.1"/>
<text x="0" y="0" font-size="7.7" text-anchor="start" transform="translate(130.10 541.60) rotate(0) scale(1 1.0)" fill="#1a1a1a" stroke="#1a1a1a" stroke-width="0.42" >Transplanted <tspan font-style="italic">Rev1Xpc</tspan></text>
<text x="0" y="0" font-size="8.6" text-anchor="middle" font-style="italic" transform="translate(278.00 521.90) rotate(0) scale(1 1.0)" fill="#1a1a1a" stroke="#1a1a1a" stroke-width="0.42" >Rev1Xpc</text>
<text x="0" y="0" font-size="8.6" text-anchor="middle" transform="translate(371.70 521.90) rotate(0) scale(1 1.0)" fill="#1a1a1a" stroke="#1a1a1a" stroke-width="0.42" >Transplanted <tspan font-style="italic">Rev1Xpc</tspan></text>
<line x1="232.00" y1="527.90" x2="324.00" y2="527.90" stroke="#111" stroke-width="1.3" />
<line x1="326.50" y1="527.90" x2="418.20" y2="527.90" stroke="#111" stroke-width="1.3" />
<clipPath id="c1"><rect x="232" y="530.5" width="92" height="69.3"/></clipPath>
<clipPath id="c2"><rect x="327" y="530.5" width="91.3" height="69.3"/></clipPath>
<g clip-path="url(#c1)">
<rect x="232.00" y="530.50" width="92.00" height="69.30" fill="#b45893"/>
<ellipse cx="247.9" cy="527.9" rx="4.3" ry="4.1" fill="#dcaccc"/>
<ellipse cx="256.2" cy="528.6" rx="3.7" ry="4.7" fill="#dcaccc"/>
<ellipse cx="262.2" cy="528.8" rx="3.7" ry="4.1" fill="#dcaccc"/>
<ellipse cx="271.1" cy="530.0" rx="3.7" ry="4.3" fill="#dcaccc"/>
<ellipse cx="279.3" cy="530.4" rx="4.2" ry="4.5" fill="#dcaccc"/>
<ellipse cx="288.0" cy="527.5" rx="4.5" ry="4.4" fill="#dcaccc"/>
<ellipse cx="293.0" cy="527.8" rx="3.9" ry="5.1" fill="#dcaccc"/>
<ellipse cx="300.7" cy="529.3" rx="4.3" ry="4.5" fill="#dcaccc"/>
<ellipse cx="309.5" cy="527.6" rx="3.7" ry="4.3" fill="#dcaccc"/>
<ellipse cx="317.5" cy="528.8" rx="3.9" ry="4.8" fill="#dcaccc"/>
<ellipse cx="324.4" cy="528.4" rx="4.5" ry="4.9" fill="#dcaccc"/>
<ellipse cx="251.5" cy="536.6" rx="4.2" ry="5.1" fill="#dcaccc"/>
<ellipse cx="260.6" cy="535.7" rx="4.7" ry="4.2" fill="#dcaccc"/>
<ellipse cx="267.2" cy="537.2" rx="3.8" ry="4.6" fill="#dcaccc"/>
<ellipse cx="273.6" cy="536.9" rx="4.4" ry="4.7" fill="#dcaccc"/>
<ellipse cx="283.9" cy="535.8" rx="4.4" ry="4.8" fill="#dcaccc"/>
<ellipse cx="290.6" cy="536.3" rx="4.5" ry="5.2" fill="#dcaccc"/>
<ellipse cx="297.8" cy="536.9" rx="3.7" ry="4.9" fill="#dcaccc"/>
<ellipse cx="306.0" cy="538.0" rx="4.5" ry="4.4" fill="#dcaccc"/>
<ellipse cx="312.7" cy="536.9" rx="3.6" ry="4.6" fill="#dcaccc"/>
<ellipse cx="319.6" cy="535.2" rx="3.7" ry="5.0" fill="#dcaccc"/>
<ellipse cx="327.1" cy="535.6" rx="4.0" ry="5.1" fill="#dcaccc"/>
<ellipse cx="247.2" cy="543.6" rx="4.2" ry="5.1" fill="#dcaccc"/>
<ellipse cx="257.1" cy="545.0" rx="3.9" ry="4.5" fill="#dcaccc"/>
<ellipse cx="263.2" cy="545.0" rx="4.7" ry="4.2" fill="#dcaccc"/>
<ellipse cx="270.3" cy="542.9" rx="3.9" ry="4.6" fill="#dcaccc"/>
<ellipse cx="279.2" cy="543.0" rx="3.6" ry="4.5" fill="#dcaccc"/>
<ellipse cx="286.1" cy="544.0" rx="4.6" ry="4.9" fill="#dcaccc"/>
<ellipse cx="294.1" cy="544.2" rx="4.3" ry="4.1" fill="#dcaccc"/>
<ellipse cx="303.0" cy="544.7" rx="4.6" ry="5.0" fill="#dcaccc"/>
<ellipse cx="309.0" cy="543.5" rx="3.7" ry="4.8" fill="#dcaccc"/>
<ellipse cx="315.5" cy="542.4" rx="3.8" ry="4.2" fill="#dcaccc"/>
<ellipse cx="324.0" cy="542.4" rx="3.6" ry="4.2" fill="#dcaccc"/>
<ellipse cx="251.0" cy="550.8" rx="3.6" ry="5.1" fill="#dcaccc"/>
<ellipse cx="260.3" cy="550.1" rx="3.9" ry="4.5" fill="#dcaccc"/>
<ellipse cx="267.1" cy="550.0" rx="4.5" ry="5.3" fill="#dcaccc"/>
<ellipse cx="275.0" cy="551.1" rx="3.7" ry="4.1" fill="#dcaccc"/>
<ellipse cx="282.2" cy="550.4" rx="4.5" ry="4.2" fill="#dcaccc"/>
<ellipse cx="288.8" cy="552.6" rx="4.2" ry="4.2" fill="#dcaccc"/>
<ellipse cx="298.0" cy="549.7" rx="4.2" ry="5.3" fill="#dcaccc"/>
<ellipse cx="306.7" cy="551.8" rx="3.9" ry="4.5" fill="#dcaccc"/>
<ellipse cx="312.0" cy="552.1" rx="4.2" ry="5.0" fill="#dcaccc"/>
<ellipse cx="320.2" cy="550.3" rx="4.5" ry="5.3" fill="#dcaccc"/>
<ellipse cx="329.4" cy="552.2" rx="4.5" ry="5.0" fill="#dcaccc"/>
<ellipse cx="247.6" cy="558.7" rx="4.0" ry="4.0" fill="#dcaccc"/>
<ellipse cx="254.6" cy="557.9" rx="3.9" ry="4.9" fill="#dcaccc"/>
<ellipse cx="265.2" cy="558.4" rx="4.6" ry="5.3" fill="#dcaccc"/>
<ellipse cx="272.8" cy="558.2" rx="3.8" ry="4.3" fill="#dcaccc"/>
<ellipse cx="277.9" cy="557.7" rx="4.3" ry="5.2" fill="#dcaccc"/>
<ellipse cx="287.6" cy="558.5" rx="4.3" ry="5.0" fill="#dcaccc"/>
<ellipse cx="292.8" cy="559.1" rx="4.6" ry="5.0" fill="#dcaccc"/>
<ellipse cx="302.5" cy="558.5" rx="3.8" ry="5.0" fill="#dcaccc"/>
<ellipse cx="308.8" cy="559.6" rx="4.7" ry="4.5" fill="#dcaccc"/>
<ellipse cx="316.6" cy="560.0" rx="4.4" ry="4.2" fill="#dcaccc"/>
<ellipse cx="323.3" cy="557.5" rx="4.6" ry="5.0" fill="#dcaccc"/>
<ellipse cx="251.2" cy="567.0" rx="4.7" ry="4.9" fill="#dcaccc"/>
<ellipse cx="259.4" cy="566.2" rx="3.7" ry="4.0" fill="#dcaccc"/>
<ellipse cx="269.0" cy="566.5" rx="4.2" ry="5.2" fill="#dcaccc"/>
<ellipse cx="274.9" cy="567.2" rx="4.5" ry="4.3" fill="#dcaccc"/>
<ellipse cx="281.9" cy="565.3" rx="3.9" ry="4.8" fill="#dcaccc"/>
<ellipse cx="289.5" cy="565.7" rx="3.7" ry="5.2" fill="#dcaccc"/>
<ellipse cx="297.4" cy="565.9" rx="4.2" ry="5.2" fill="#dcaccc"/>
<ellipse cx="305.2" cy="567.3" rx="4.2" ry="4.7" fill="#dcaccc"/>
<ellipse cx="313.2" cy="564.5" rx="4.1" ry="4.2" fill="#dcaccc"/>
<ellipse cx="319.1" cy="567.0" rx="3.8" ry="4.6" fill="#dcaccc"/>
<ellipse cx="329.0" cy="566.2" rx="4.0" ry="4.7" fill="#dcaccc"/>
<ellipse cx="248.7" cy="574.3" rx="3.7" ry="4.7" fill="#dcaccc"/>
<ellipse cx="255.3" cy="572.7" rx="4.4" ry="4.7" fill="#dcaccc"/>
<ellipse cx="263.9" cy="574.2" rx="4.6" ry="4.6" fill="#dcaccc"/>
<ellipse cx="271.7" cy="573.4" rx="4.2" ry="4.9" fill="#dcaccc"/>
<ellipse cx="278.7" cy="573.5" rx="4.1" ry="5.2" fill="#dcaccc"/>
<ellipse cx="287.1" cy="574.6" rx="4.6" ry="4.3" fill="#dcaccc"/>
<ellipse cx="294.3" cy="574.8" rx="4.5" ry="4.2" fill="#dcaccc"/>
<ellipse cx="300.5" cy="573.2" rx="3.7" ry="4.3" fill="#dcaccc"/>
<ellipse cx="307.9" cy="573.9" rx="4.5" ry="5.2" fill="#dcaccc"/>
<ellipse cx="315.8" cy="574.1" rx="4.3" ry="4.2" fill="#dcaccc"/>
<ellipse cx="325.7" cy="574.9" rx="3.8" ry="5.2" fill="#dcaccc"/>
<ellipse cx="252.0" cy="580.8" rx="4.7" ry="5.1" fill="#dcaccc"/>
<ellipse cx="258.8" cy="580.6" rx="4.2" ry="4.4" fill="#dcaccc"/>
<ellipse cx="266.5" cy="580.2" rx="4.4" ry="4.0" fill="#dcaccc"/>
<ellipse cx="275.3" cy="580.6" rx="3.6" ry="4.4" fill="#dcaccc"/>
<ellipse cx="283.1" cy="580.8" rx="3.7" ry="5.3" fill="#dcaccc"/>
<ellipse cx="291.2" cy="582.3" rx="3.7" ry="4.3" fill="#dcaccc"/>
<ellipse cx="296.4" cy="581.7" rx="3.9" ry="4.2" fill="#dcaccc"/>
<ellipse cx="305.3" cy="582.1" rx="4.5" ry="4.3" fill="#dcaccc"/>
<ellipse cx="312.0" cy="582.1" rx="4.2" ry="4.9" fill="#dcaccc"/>
<ellipse cx="319.4" cy="579.4" rx="4.4" ry="4.6" fill="#dcaccc"/>
<ellipse cx="326.9" cy="582.2" rx="4.3" ry="5.0" fill="#dcaccc"/>
<ellipse cx="247.2" cy="589.3" rx="3.7" ry="5.1" fill="#dcaccc"/>
<ellipse cx="256.0" cy="587.7" rx="4.2" ry="5.2" fill="#dcaccc"/>
<ellipse cx="263.0" cy="587.0" rx="4.2" ry="4.3" fill="#dcaccc"/>
<ellipse cx="270.1" cy="587.1" rx="3.7" ry="4.3" fill="#dcaccc"/>
<ellipse cx="278.3" cy="587.6" rx="4.4" ry="4.4" fill="#dcaccc"/>
<ellipse cx="286.5" cy="587.2" rx="4.0" ry="4.0" fill="#dcaccc"/>
<ellipse cx="293.3" cy="586.6" rx="4.4" ry="4.7" fill="#dcaccc"/>
<ellipse cx="300.7" cy="588.1" rx="4.6" ry="4.1" fill="#dcaccc"/>
<ellipse cx="310.3" cy="588.0" rx="4.1" ry="5.1" fill="#dcaccc"/>
<ellipse cx="316.6" cy="588.2" rx="4.4" ry="5.3" fill="#dcaccc"/>
<ellipse cx="324.0" cy="589.3" rx="4.4" ry="4.8" fill="#dcaccc"/>
<ellipse cx="252.0" cy="595.1" rx="3.7" ry="4.2" fill="#dcaccc"/>
<ellipse cx="258.5" cy="596.4" rx="3.9" ry="4.2" fill="#dcaccc"/>
<ellipse cx="266.2" cy="596.7" rx="4.6" ry="4.9" fill="#dcaccc"/>
<ellipse cx="274.4" cy="594.8" rx="3.9" ry="4.6" fill="#dcaccc"/>
<ellipse cx="281.6" cy="595.4" rx="3.9" ry="5.3" fill="#dcaccc"/>
<ellipse cx="291.8" cy="595.8" rx="3.9" ry="5.3" fill="#dcaccc"/>
<ellipse cx="297.3" cy="595.1" rx="3.6" ry="4.5" fill="#dcaccc"/>
<ellipse cx="305.4" cy="595.6" rx="3.8" ry="4.7" fill="#dcaccc"/>
<ellipse cx="311.5" cy="594.8" rx="3.7" ry="4.5" fill="#dcaccc"/>
<ellipse cx="319.2" cy="594.1" rx="3.9" ry="4.3" fill="#dcaccc"/>
<ellipse cx="328.6" cy="595.7" rx="4.4" ry="4.9" fill="#dcaccc"/>
<ellipse cx="249.2" cy="604.2" rx="4.0" ry="4.4" fill="#dcaccc"/>
<ellipse cx="257.7" cy="601.9" rx="4.4" ry="4.8" fill="#dcaccc"/>
<ellipse cx="262.2" cy="604.1" rx="4.6" ry="4.8" fill="#dcaccc"/>
<ellipse cx="272.0" cy="604.0" rx="3.8" ry="4.7" fill="#dcaccc"/>
<ellipse cx="278.9" cy="604.1" rx="4.5" ry="5.1" fill="#dcaccc"/>
<ellipse cx="286.8" cy="604.3" rx="4.4" ry="4.9" fill="#dcaccc"/>
<ellipse cx="293.2" cy="601.5" rx="3.7" ry="4.5" fill="#dcaccc"/>
<ellipse cx="300.4" cy="604.1" rx="4.2" ry="4.8" fill="#dcaccc"/>
<ellipse cx="309.7" cy="603.6" rx="4.1" ry="4.0" fill="#dcaccc"/>
<ellipse cx="317.9" cy="603.8" rx="4.2" ry="4.7" fill="#dcaccc"/>
<ellipse cx="325.0" cy="601.6" rx="4.4" ry="4.3" fill="#dcaccc"/>
<ellipse cx="250.0" cy="548.6" rx="1.8" ry="1.1" fill="#86286a"/>
<ellipse cx="303.2" cy="598.3" rx="1.5" ry="1.3" fill="#86286a"/>
<ellipse cx="282.3" cy="577.9" rx="1.9" ry="1.7" fill="#86286a"/>
<ellipse cx="295.4" cy="535.4" rx="1.0" ry="1.2" fill="#86286a"/>
<ellipse cx="303.5" cy="551.3" rx="1.6" ry="0.8" fill="#86286a"/>
<ellipse cx="248.9" cy="548.8" rx="1.7" ry="1.8" fill="#86286a"/>
<ellipse cx="298.1" cy="550.4" rx="1.5" ry="1.5" fill="#86286a"/>
<ellipse cx="281.3" cy="538.3" rx="2.1" ry="1.1" fill="#86286a"/>
<ellipse cx="322.3" cy="595.5" rx="0.8" ry="1.4" fill="#86286a"/>
<ellipse cx="309.6" cy="597.8" rx="1.4" ry="1.2" fill="#86286a"/>
<ellipse cx="260.8" cy="596.2" rx="1.1" ry="1.6" fill="#86286a"/>
<ellipse cx="255.3" cy="566.7" rx="2.1" ry="1.0" fill="#86286a"/>
<ellipse cx="309.6" cy="565.6" rx="2.0" ry="1.8" fill="#86286a"/>
<ellipse cx="262.5" cy="592.8" rx="1.5" ry="0.8" fill="#86286a"/>
<ellipse cx="244.3" cy="564.4" rx="1.4" ry="1.2" fill="#86286a"/>
<ellipse cx="255.3" cy="554.1" rx="1.2" ry="2.0" fill="#86286a"/>
<ellipse cx="244.1" cy="582.6" rx="2.0" ry="1.0" fill="#86286a"/>
<ellipse cx="318.1" cy="579.9" rx="2.1" ry="1.2" fill="#86286a"/>
<ellipse cx="273.8" cy="557.5" rx="2.2" ry="1.6" fill="#86286a"/>
<ellipse cx="272.9" cy="560.0" rx="1.2" ry="0.9" fill="#86286a"/>
<ellipse cx="252.1" cy="588.4" rx="1.2" ry="2.1" fill="#86286a"/>
<ellipse cx="263.9" cy="548.6" rx="1.5" ry="1.1" fill="#86286a"/>
<ellipse cx="273.9" cy="596.9" rx="2.0" ry="1.9" fill="#86286a"/>
<ellipse cx="294.5" cy="593.9" rx="2.1" ry="1.6" fill="#86286a"/>
<ellipse cx="301.6" cy="533.5" rx="1.8" ry="1.4" fill="#86286a"/>
<ellipse cx="304.2" cy="575.1" rx="1.2" ry="0.9" fill="#86286a"/>
<ellipse cx="318.1" cy="538.9" rx="1.5" ry="1.3" fill="#86286a"/>
<ellipse cx="267.8" cy="581.7" rx="2.2" ry="1.2" fill="#86286a"/>
<ellipse cx="296.5" cy="551.1" rx="1.6" ry="1.4" fill="#86286a"/>
<ellipse cx="257.4" cy="541.3" rx="1.1" ry="2.1" fill="#86286a"/>
<ellipse cx="283.8" cy="545.4" rx="2.1" ry="2.2" fill="#86286a"/>
<ellipse cx="280.0" cy="539.8" rx="1.1" ry="0.9" fill="#86286a"/>
<ellipse cx="271.4" cy="536.4" rx="1.1" ry="1.2" fill="#86286a"/>
<ellipse cx="289.6" cy="592.1" rx="1.8" ry="1.4" fill="#86286a"/>
<ellipse cx="277.1" cy="566.7" rx="1.3" ry="1.3" fill="#86286a"/>
<ellipse cx="249.0" cy="549.4" rx="2.2" ry="1.0" fill="#86286a"/>
<ellipse cx="284.3" cy="574.1" rx="2.0" ry="1.1" fill="#86286a"/>
<ellipse cx="265.7" cy="547.4" rx="1.4" ry="1.4" fill="#86286a"/>
<ellipse cx="320.3" cy="589.4" rx="2.0" ry="0.8" fill="#86286a"/>
<ellipse cx="246.6" cy="579.7" rx="2.1" ry="1.5" fill="#86286a"/>
<ellipse cx="291.0" cy="530.0" rx="1.3" ry="2.1" fill="#86286a"/>
<ellipse cx="310.0" cy="589.9" rx="2.2" ry="1.1" fill="#86286a"/>
<ellipse cx="252.7" cy="540.8" rx="1.5" ry="1.8" fill="#86286a"/>
<ellipse cx="319.3" cy="580.5" rx="1.7" ry="1.9" fill="#86286a"/>
<ellipse cx="280.6" cy="568.6" rx="0.9" ry="1.9" fill="#86286a"/>
<ellipse cx="262.6" cy="594.4" rx="1.7" ry="1.2" fill="#86286a"/>
<ellipse cx="254.2" cy="547.6" rx="1.7" ry="1.8" fill="#86286a"/>
<ellipse cx="253.0" cy="534.9" rx="1.5" ry="1.6" fill="#86286a"/>
<ellipse cx="275.0" cy="545.7" rx="1.6" ry="0.8" fill="#86286a"/>
<ellipse cx="268.1" cy="562.2" rx="2.1" ry="1.7" fill="#86286a"/>
<ellipse cx="314.7" cy="563.3" rx="1.1" ry="1.1" fill="#86286a"/>
<ellipse cx="320.8" cy="579.3" rx="1.2" ry="0.8" fill="#86286a"/>
<ellipse cx="283.9" cy="577.2" rx="1.4" ry="1.2" fill="#86286a"/>
<ellipse cx="297.4" cy="594.8" rx="1.1" ry="0.8" fill="#86286a"/>
<ellipse cx="271.0" cy="559.4" rx="1.8" ry="1.1" fill="#86286a"/>
<ellipse cx="307.8" cy="581.7" rx="1.5" ry="1.1" fill="#86286a"/>
<ellipse cx="321.6" cy="551.8" rx="1.9" ry="1.1" fill="#86286a"/>
<ellipse cx="261.7" cy="583.2" rx="1.2" ry="2.1" fill="#86286a"/>
<ellipse cx="283.7" cy="543.1" rx="1.1" ry="1.4" fill="#86286a"/>
<ellipse cx="297.2" cy="596.4" rx="1.0" ry="1.4" fill="#86286a"/>
<ellipse cx="261.0" cy="598.2" rx="1.0" ry="0.9" fill="#86286a"/>
<ellipse cx="248.8" cy="557.5" rx="2.1" ry="2.0" fill="#86286a"/>
<ellipse cx="302.6" cy="599.8" rx="2.1" ry="1.3" fill="#86286a"/>
<ellipse cx="258.8" cy="595.5" rx="1.8" ry="0.8" fill="#86286a"/>
<ellipse cx="297.2" cy="556.5" rx="1.3" ry="1.3" fill="#86286a"/>
<ellipse cx="257.5" cy="530.2" rx="1.2" ry="1.3" fill="#86286a"/>
<ellipse cx="320.4" cy="538.7" rx="2.1" ry="1.1" fill="#86286a"/>
<ellipse cx="272.5" cy="587.5" rx="2.0" ry="1.4" fill="#86286a"/>
<ellipse cx="247.9" cy="563.1" rx="1.3" ry="2.1" fill="#86286a"/>
<ellipse cx="259.4" cy="555.5" rx="2.1" ry="0.8" fill="#86286a"/>
<ellipse cx="247.9" cy="527.9" rx="3.6" ry="3.4" fill="rgb(204,211,208)"/>
<ellipse cx="256.2" cy="528.6" rx="3.0" ry="4.0" fill="rgb(201,208,205)"/>
<ellipse cx="262.2" cy="528.8" rx="3.0" ry="3.4" fill="rgb(210,217,214)"/>
<ellipse cx="271.1" cy="530.0" rx="3.0" ry="3.6" fill="rgb(208,215,212)"/>
<ellipse cx="279.3" cy="530.4" rx="3.5" ry="3.8" fill="rgb(210,217,214)"/>
<ellipse cx="288.0" cy="527.5" rx="3.8" ry="3.7" fill="rgb(204,211,208)"/>
<ellipse cx="293.0" cy="527.8" rx="3.2" ry="4.4" fill="rgb(198,205,202)"/>
<ellipse cx="300.7" cy="529.3" rx="3.6" ry="3.8" fill="rgb(204,211,208)"/>
<ellipse cx="309.5" cy="527.6" rx="3.0" ry="3.6" fill="rgb(198,205,202)"/>
<ellipse cx="317.5" cy="528.8" rx="3.2" ry="4.1" fill="rgb(205,212,209)"/>
<ellipse cx="324.4" cy="528.4" rx="3.8" ry="4.2" fill="rgb(199,206,203)"/>
<ellipse cx="251.5" cy="536.6" rx="3.5" ry="4.4" fill="rgb(210,217,214)"/>
<ellipse cx="260.6" cy="535.7" rx="4.0" ry="3.5" fill="rgb(212,219,216)"/>
<ellipse cx="267.2" cy="537.2" rx="3.1" ry="3.9" fill="rgb(198,205,202)"/>
<ellipse cx="273.6" cy="536.9" rx="3.7" ry="4.0" fill="rgb(202,209,206)"/>
<ellipse cx="283.9" cy="535.8" rx="3.7" ry="4.1" fill="rgb(201,208,205)"/>
<ellipse cx="290.6" cy="536.3" rx="3.8" ry="4.5" fill="rgb(209,216,213)"/>
<ellipse cx="297.8" cy="536.9" rx="3.0" ry="4.2" fill="rgb(199,206,203)"/>
<ellipse cx="306.0" cy="538.0" rx="3.8" ry="3.7" fill="rgb(212,219,216)"/>
<ellipse cx="312.7" cy="536.9" rx="2.9" ry="3.9" fill="rgb(207,214,211)"/>
<ellipse cx="319.6" cy="535.2" rx="3.0" ry="4.3" fill="rgb(203,210,207)"/>
<ellipse cx="327.1" cy="535.6" rx="3.3" ry="4.4" fill="rgb(203,210,207)"/>
<ellipse cx="247.2" cy="543.6" rx="3.5" ry="4.4" fill="rgb(202,209,206)"/>
<ellipse cx="257.1" cy="545.0" rx="3.2" ry="3.8" fill="rgb(203,210,207)"/>
<ellipse cx="263.2" cy="545.0" rx="4.0" ry="3.5" fill="rgb(207,214,211)"/>
<ellipse cx="270.3" cy="542.9" rx="3.2" ry="3.9" fill="rgb(198,205,202)"/>
<ellipse cx="279.2" cy="543.0" rx="2.9" ry="3.8" fill="rgb(202,209,206)"/>
<ellipse cx="286.1" cy="544.0" rx="3.9" ry="4.2" fill="rgb(209,216,213)"/>
<ellipse cx="294.1" cy="544.2" rx="3.6" ry="3.4" fill="rgb(209,216,213)"/>
<ellipse cx="303.0" cy="544.7" rx="3.9" ry="4.3" fill="rgb(209,216,213)"/>
<ellipse cx="309.0" cy="543.5" rx="3.0" ry="4.1" fill="rgb(203,210,207)"/>
<ellipse cx="315.5" cy="542.4" rx="3.1" ry="3.5" fill="rgb(212,219,216)"/>
<ellipse cx="324.0" cy="542.4" rx="2.9" ry="3.5" fill="rgb(202,209,206)"/>
<ellipse cx="251.0" cy="550.8" rx="2.9" ry="4.4" fill="rgb(202,209,206)"/>
<ellipse cx="260.3" cy="550.1" rx="3.2" ry="3.8" fill="rgb(198,205,202)"/>
<ellipse cx="267.1" cy="550.0" rx="3.8" ry="4.6" fill="rgb(209,216,213)"/>
<ellipse cx="275.0" cy="551.1" rx="3.0" ry="3.4" fill="rgb(210,217,214)"/>
<ellipse cx="282.2" cy="550.4" rx="3.8" ry="3.5" fill="rgb(207,214,211)"/>
<ellipse cx="288.8" cy="552.6" rx="3.5" ry="3.5" fill="rgb(212,219,216)"/>
<ellipse cx="298.0" cy="549.7" rx="3.5" ry="4.6" fill="rgb(210,217,214)"/>
<ellipse cx="306.7" cy="551.8" rx="3.2" ry="3.8" fill="rgb(208,215,212)"/>
<ellipse cx="312.0" cy="552.1" rx="3.5" ry="4.3" fill="rgb(199,206,203)"/>
<ellipse cx="320.2" cy="550.3" rx="3.8" ry="4.6" fill="rgb(198,205,202)"/>
<ellipse cx="329.4" cy="552.2" rx="3.8" ry="4.3" fill="rgb(211,218,215)"/>
<ellipse cx="247.6" cy="558.7" rx="3.3" ry="3.3" fill="rgb(201,208,205)"/>
<ellipse cx="254.6" cy="557.9" rx="3.2" ry="4.2" fill="rgb(199,206,203)"/>
<ellipse cx="265.2" cy="558.4" rx="3.9" ry="4.6" fill="rgb(205,212,209)"/>
<ellipse cx="272.8" cy="558.2" rx="3.1" ry="3.6" fill="rgb(209,216,213)"/>
<ellipse cx="277.9" cy="557.7" rx="3.6" ry="4.5" fill="rgb(205,212,209)"/>
<ellipse cx="287.6" cy="558.5" rx="3.6" ry="4.3" fill="rgb(210,217,214)"/>
<ellipse cx="292.8" cy="559.1" rx="3.9" ry="4.3" fill="rgb(204,211,208)"/>
<ellipse cx="302.5" cy="558.5" rx="3.1" ry="4.3" fill="rgb(210,217,214)"/>
<ellipse cx="308.8" cy="559.6" rx="4.0" ry="3.8" fill="rgb(202,209,206)"/>
<ellipse cx="316.6" cy="560.0" rx="3.7" ry="3.5" fill="rgb(212,219,216)"/>
<ellipse cx="323.3" cy="557.5" rx="3.9" ry="4.3" fill="rgb(204,211,208)"/>
<ellipse cx="251.2" cy="567.0" rx="4.0" ry="4.2" fill="rgb(211,218,215)"/>
<ellipse cx="259.4" cy="566.2" rx="3.0" ry="3.3" fill="rgb(205,212,209)"/>
<ellipse cx="269.0" cy="566.5" rx="3.5" ry="4.5" fill="rgb(200,207,204)"/>
<ellipse cx="274.9" cy="567.2" rx="3.8" ry="3.6" fill="rgb(212,219,216)"/>
<ellipse cx="281.9" cy="565.3" rx="3.2" ry="4.1" fill="rgb(205,212,209)"/>
<ellipse cx="289.5" cy="565.7" rx="3.0" ry="4.5" fill="rgb(200,207,204)"/>
<ellipse cx="297.4" cy="565.9" rx="3.5" ry="4.5" fill="rgb(198,205,202)"/>
<ellipse cx="305.2" cy="567.3" rx="3.5" ry="4.0" fill="rgb(210,217,214)"/>
<ellipse cx="313.2" cy="564.5" rx="3.4" ry="3.5" fill="rgb(212,219,216)"/>
<ellipse cx="319.1" cy="567.0" rx="3.1" ry="3.9" fill="rgb(209,216,213)"/>
<ellipse cx="329.0" cy="566.2" rx="3.3" ry="4.0" fill="rgb(202,209,206)"/>
<ellipse cx="248.7" cy="574.3" rx="3.0" ry="4.0" fill="rgb(211,218,215)"/>
<ellipse cx="255.3" cy="572.7" rx="3.7" ry="4.0" fill="rgb(209,216,213)"/>
<ellipse cx="263.9" cy="574.2" rx="3.9" ry="3.9" fill="rgb(210,217,214)"/>
<ellipse cx="271.7" cy="573.4" rx="3.5" ry="4.2" fill="rgb(200,207,204)"/>
<ellipse cx="278.7" cy="573.5" rx="3.4" ry="4.5" fill="rgb(207,214,211)"/>
<ellipse cx="287.1" cy="574.6" rx="3.9" ry="3.6" fill="rgb(201,208,205)"/>
<ellipse cx="294.3" cy="574.8" rx="3.8" ry="3.5" fill="rgb(203,210,207)"/>
<ellipse cx="300.5" cy="573.2" rx="3.0" ry="3.6" fill="rgb(211,218,215)"/>
<ellipse cx="307.9" cy="573.9" rx="3.8" ry="4.5" fill="rgb(203,210,207)"/>
<ellipse cx="315.8" cy="574.1" rx="3.6" ry="3.5" fill="rgb(205,212,209)"/>
<ellipse cx="325.7" cy="574.9" rx="3.1" ry="4.5" fill="rgb(203,210,207)"/>
<ellipse cx="252.0" cy="580.8" rx="4.0" ry="4.4" fill="rgb(210,217,214)"/>
<ellipse cx="258.8" cy="580.6" rx="3.5" ry="3.7" fill="rgb(210,217,214)"/>
<ellipse cx="266.5" cy="580.2" rx="3.7" ry="3.3" fill="rgb(207,214,211)"/>
<ellipse cx="275.3" cy="580.6" rx="2.9" ry="3.7" fill="rgb(199,206,203)"/>
<ellipse cx="283.1" cy="580.8" rx="3.0" ry="4.6" fill="rgb(206,213,210)"/>
<ellipse cx="291.2" cy="582.3" rx="3.0" ry="3.6" fill="rgb(201,208,205)"/>
<ellipse cx="296.4" cy="581.7" rx="3.2" ry="3.5" fill="rgb(204,211,208)"/>
<ellipse cx="305.3" cy="582.1" rx="3.8" ry="3.6" fill="rgb(210,217,214)"/>
<ellipse cx="312.0" cy="582.1" rx="3.5" ry="4.2" fill="rgb(200,207,204)"/>
<ellipse cx="319.4" cy="579.4" rx="3.7" ry="3.9" fill="rgb(201,208,205)"/>
<ellipse cx="326.9" cy="582.2" rx="3.6" ry="4.3" fill="rgb(204,211,208)"/>
<ellipse cx="247.2" cy="589.3" rx="3.0" ry="4.4" fill="rgb(199,206,203)"/>
<ellipse cx="256.0" cy="587.7" rx="3.5" ry="4.5" fill="rgb(208,215,212)"/>
<ellipse cx="263.0" cy="587.0" rx="3.5" ry="3.6" fill="rgb(198,205,202)"/>
<ellipse cx="270.1" cy="587.1" rx="3.0" ry="3.6" fill="rgb(205,212,209)"/>
<ellipse cx="278.3" cy="587.6" rx="3.7" ry="3.7" fill="rgb(206,213,210)"/>
<ellipse cx="286.5" cy="587.2" rx="3.3" ry="3.3" fill="rgb(206,213,210)"/>
<ellipse cx="293.3" cy="586.6" rx="3.7" ry="4.0" fill="rgb(203,210,207)"/>
<ellipse cx="300.7" cy="588.1" rx="3.9" ry="3.4" fill="rgb(200,207,204)"/>
<ellipse cx="310.3" cy="588.0" rx="3.4" ry="4.4" fill="rgb(204,211,208)"/>
<ellipse cx="316.6" cy="588.2" rx="3.7" ry="4.6" fill="rgb(212,219,216)"/>
<ellipse cx="324.0" cy="589.3" rx="3.7" ry="4.1" fill="rgb(199,206,203)"/>
<ellipse cx="252.0" cy="595.1" rx="3.0" ry="3.5" fill="rgb(199,206,203)"/>
<ellipse cx="258.5" cy="596.4" rx="3.2" ry="3.5" fill="rgb(202,209,206)"/>
<ellipse cx="266.2" cy="596.7" rx="3.9" ry="4.2" fill="rgb(207,214,211)"/>
<ellipse cx="274.4" cy="594.8" rx="3.2" ry="3.9" fill="rgb(199,206,203)"/>
<ellipse cx="281.6" cy="595.4" rx="3.2" ry="4.6" fill="rgb(201,208,205)"/>
<ellipse cx="291.8" cy="595.8" rx="3.2" ry="4.6" fill="rgb(199,206,203)"/>
<ellipse cx="297.3" cy="595.1" rx="2.9" ry="3.8" fill="rgb(204,211,208)"/>
<ellipse cx="305.4" cy="595.6" rx="3.1" ry="4.0" fill="rgb(205,212,209)"/>
<ellipse cx="311.5" cy="594.8" rx="3.0" ry="3.8" fill="rgb(209,216,213)"/>
<ellipse cx="319.2" cy="594.1" rx="3.2" ry="3.6" fill="rgb(205,212,209)"/>
<ellipse cx="328.6" cy="595.7" rx="3.7" ry="4.2" fill="rgb(200,207,204)"/>
<ellipse cx="249.2" cy="604.2" rx="3.3" ry="3.7" fill="rgb(201,208,205)"/>
<ellipse cx="257.7" cy="601.9" rx="3.7" ry="4.1" fill="rgb(200,207,204)"/>
<ellipse cx="262.2" cy="604.1" rx="3.9" ry="4.1" fill="rgb(204,211,208)"/>
<ellipse cx="272.0" cy="604.0" rx="3.1" ry="4.0" fill="rgb(205,212,209)"/>
<ellipse cx="278.9" cy="604.1" rx="3.8" ry="4.4" fill="rgb(207,214,211)"/>
<ellipse cx="286.8" cy="604.3" rx="3.7" ry="4.2" fill="rgb(212,219,216)"/>
<ellipse cx="293.2" cy="601.5" rx="3.0" ry="3.8" fill="rgb(208,215,212)"/>
<ellipse cx="300.4" cy="604.1" rx="3.5" ry="4.1" fill="rgb(201,208,205)"/>
<ellipse cx="309.7" cy="603.6" rx="3.4" ry="3.3" fill="rgb(209,216,213)"/>
<ellipse cx="317.9" cy="603.8" rx="3.5" ry="4.0" fill="rgb(206,213,210)"/>
<ellipse cx="325.0" cy="601.6" rx="3.7" ry="3.6" fill="rgb(211,218,215)"/>
<path d="M232 530.5 L241.6 530.5 L247.6 599.8 L232 599.8 Z" fill="#cf5f8e"/>
<path d="M232 575 L248 599.8 L232 599.8 Z" fill="#c05a98" opacity="0.5"/>
<path d="M241.6 530.5 L243.0 530.5 L249.0 599.8 L247.6 599.8 Z" fill="#eed8e6"/>
<line x1="234.00" y1="596.30" x2="245.20" y2="596.30" stroke="#fff" stroke-width="1.2" />
<rect x="304.80" y="589.70" width="19.20" height="10.10" fill="#fff"/>
</g>
<text x="0" y="0" font-size="8.2" text-anchor="middle" transform="translate(314.30 597.60) rotate(0) scale(1 1.0)" fill="#000" stroke="#000" stroke-width="0.42" >4 m</text>
<linearGradient id="g2" x1="1" y1="0" x2="0" y2="1"><stop offset="0" stop-color="#7c3a9e"/><stop offset="0.5" stop-color="#8e3c9a"/><stop offset="1" stop-color="#a4449a"/></linearGradient>
<g clip-path="url(#c2)">
<rect x="327" y="530.5" width="91.3" height="69.3" fill="url(#g2)"/>
<circle cx="397.7" cy="583.1" r="1.1" fill="#7c3090"/>
<circle cx="378.8" cy="556.3" r="1.1" fill="#74308e"/>
<circle cx="367.1" cy="543.4" r="1.0" fill="#7a3aa4"/>
<circle cx="407.7" cy="570.6" r="0.9" fill="#9a4aa6"/>
<circle cx="350.0" cy="547.5" r="1.0" fill="#9e4298"/>
<circle cx="400.8" cy="575.8" r="0.9" fill="#a8489e"/>
<circle cx="370.3" cy="587.3" r="1.7" fill="#8a3490"/>
<circle cx="330.7" cy="550.9" r="0.9" fill="#b04a9c"/>
<circle cx="381.8" cy="587.9" r="1.7" fill="#9a3a90"/>
<circle cx="361.0" cy="590.5" r="1.4" fill="#8a3490"/>
<circle cx="397.8" cy="576.6" r="0.9" fill="#a8489e"/>
<circle cx="381.4" cy="573.5" r="0.8" fill="#6a2a8a"/>
<circle cx="358.0" cy="533.6" r="0.8" fill="#9a4aa6"/>
<circle cx="393.9" cy="593.8" r="1.6" fill="#a8489e"/>
<circle cx="364.3" cy="556.3" r="1.1" fill="#9e4298"/>
<circle cx="345.6" cy="585.6" r="1.3" fill="#a8489e"/>
<circle cx="364.3" cy="585.7" r="1.4" fill="#7a3090"/>
<circle cx="385.4" cy="536.8" r="1.2" fill="#7a3aa4"/>
<circle cx="351.8" cy="599.0" r="1.1" fill="#7a3090"/>
<circle cx="414.0" cy="552.1" r="1.7" fill="#8a44a8"/>
<circle cx="364.8" cy="531.8" r="1.4" fill="#9a4aa6"/>
<circle cx="362.7" cy="558.6" r="1.2" fill="#a8489e"/>
<circle cx="341.3" cy="538.4" r="1.2" fill="#a8489e"/>
<circle cx="407.6" cy="562.4" r="0.9" fill="#7a3aa4"/>
<circle cx="331.7" cy="540.4" r="0.9" fill="#b45aa8"/>
<circle cx="383.8" cy="556.2" r="1.0" fill="#8a44a8"/>
<circle cx="358.8" cy="541.7" r="1.7" fill="#6a2a8a"/>
<circle cx="336.9" cy="564.5" r="1.1" fill="#9a3a90"/>
<circle cx="403.4" cy="533.5" r="1.1" fill="#5e2c8e"/>
<circle cx="382.5" cy="574.6" r="1.7" fill="#a8489e"/>
<circle cx="383.6" cy="587.6" r="1.4" fill="#9a3a90"/>
<circle cx="405.2" cy="573.5" r="1.6" fill="#8a44a8"/>
<circle cx="402.7" cy="543.2" r="0.8" fill="#7a3aa4"/>
<circle cx="412.7" cy="541.3" r="0.9" fill="#9a4aa6"/>
<circle cx="349.6" cy="580.7" r="0.8" fill="#9a3a90"/>
<circle cx="378.3" cy="583.0" r="1.5" fill="#a8489e"/>
<circle cx="356.6" cy="557.5" r="1.4" fill="#b45aa8"/>
<circle cx="384.2" cy="551.7" r="1.1" fill="#5e2c8e"/>
<circle cx="349.8" cy="557.5" r="1.2" fill="#7c3090"/>
<circle cx="367.0" cy="532.1" r="1.8" fill="#8a44a8"/>
<circle cx="369.5" cy="561.5" r="1.6" fill="#9e4298"/>
<circle cx="368.8" cy="542.9" r="1.2" fill="#5e2c8e"/>
<circle cx="333.1" cy="555.3" r="0.9" fill="#c060a8"/>
<circle cx="367.4" cy="565.9" r="0.8" fill="#a8489e"/>
<circle cx="338.9" cy="594.4" r="1.6" fill="#c060a8"/>
<circle cx="373.7" cy="534.3" r="1.7" fill="#8a44a8"/>
<circle cx="386.6" cy="584.8" r="1.7" fill="#a8489e"/>
<circle cx="417.9" cy="581.2" r="1.0" fill="#6a34a0"/>
<circle cx="416.6" cy="564.6" r="1.5" fill="#7a3aa4"/>
<circle cx="392.8" cy="545.8" r="1.4" fill="#9a4aa6"/>
<circle cx="350.0" cy="552.9" r="1.1" fill="#9e4298"/>
<circle cx="401.5" cy="540.4" r="1.8" fill="#8a44a8"/>
<circle cx="370.8" cy="571.5" r="1.3" fill="#9e4298"/>
<circle cx="356.1" cy="533.1" r="1.2" fill="#7a3aa4"/>
<circle cx="385.1" cy="549.8" r="1.7" fill="#9a4aa6"/>
<circle cx="342.4" cy="584.9" r="1.6" fill="#b04a9c"/>
<circle cx="331.4" cy="590.0" r="1.4" fill="#8a3490"/>
<circle cx="380.0" cy="591.7" r="1.1" fill="#b04a9c"/>
<circle cx="375.9" cy="589.9" r="1.6" fill="#7a3090"/>
<circle cx="351.2" cy="599.1" r="0.9" fill="#a8489e"/>
<circle cx="357.2" cy="536.1" r="1.0" fill="#7a3aa4"/>
<circle cx="394.9" cy="533.8" r="1.1" fill="#8a44a8"/>
<circle cx="385.4" cy="598.7" r="1.7" fill="#a8489e"/>
<circle cx="408.8" cy="581.3" r="0.8" fill="#74308e"/>
<circle cx="340.6" cy="573.2" r="1.2" fill="#8a3490"/>
<circle cx="360.2" cy="533.8" r="1.0" fill="#5e2c8e"/>
<circle cx="386.6" cy="532.0" r="1.4" fill="#6a34a0"/>
<circle cx="354.7" cy="566.8" r="1.0" fill="#a8489e"/>
<circle cx="380.3" cy="571.3" r="1.2" fill="#6a2a8a"/>
<circle cx="402.6" cy="541.5" r="1.7" fill="#6a34a0"/>
<circle cx="349.2" cy="540.8" r="0.9" fill="#a8489e"/>
<circle cx="340.2" cy="576.6" r="1.2" fill="#c060a8"/>
<circle cx="351.1" cy="531.3" r="1.6" fill="#b060b0"/>
<circle cx="408.5" cy="571.7" r="1.2" fill="#8a44a8"/>
<circle cx="412.6" cy="581.3" r="1.0" fill="#7a3aa4"/>
<circle cx="327.0" cy="534.8" r="1.2" fill="#a8489e"/>
<circle cx="348.7" cy="534.5" r="0.8" fill="#a8489e"/>
<circle cx="377.3" cy="595.7" r="1.2" fill="#9a3a90"/>
<circle cx="374.3" cy="575.0" r="1.4" fill="#74308e"/>
<circle cx="401.3" cy="542.6" r="0.9" fill="#9a4aa6"/>
<circle cx="384.2" cy="599.4" r="1.6" fill="#7a3090"/>
<circle cx="392.3" cy="530.9" r="1.5" fill="#5e2c8e"/>
<circle cx="369.5" cy="581.9" r="1.0" fill="#8a3490"/>
<circle cx="418.0" cy="548.6" r="0.8" fill="#b060b0"/>
<circle cx="357.6" cy="582.5" r="1.7" fill="#7a3090"/>
<circle cx="351.0" cy="534.1" r="1.4" fill="#b060b0"/>
<circle cx="366.8" cy="585.1" r="1.8" fill="#a8489e"/>
<circle cx="354.0" cy="594.8" r="0.9" fill="#9a3a90"/>
<circle cx="373.3" cy="542.3" r="1.6" fill="#7a3aa4"/>
<circle cx="345.5" cy="541.5" r="1.0" fill="#7c3090"/>
<circle cx="362.5" cy="572.2" r="1.7" fill="#8a3490"/>
<circle cx="384.6" cy="578.5" r="1.6" fill="#74308e"/>
<circle cx="376.0" cy="563.2" r="1.5" fill="#9e4298"/>
<circle cx="405.3" cy="560.8" r="1.0" fill="#b060b0"/>
<circle cx="407.8" cy="585.2" r="1.4" fill="#b45aa8"/>
<circle cx="334.1" cy="593.6" r="0.8" fill="#9a3a90"/>
<circle cx="337.2" cy="573.6" r="1.1" fill="#9a3a90"/>
<circle cx="340.0" cy="532.5" r="0.9" fill="#a8489e"/>
<circle cx="385.8" cy="533.5" r="1.5" fill="#6a34a0"/>
<circle cx="333.0" cy="571.4" r="1.0" fill="#c060a8"/>
<circle cx="414.2" cy="567.5" r="0.9" fill="#b060b0"/>
<circle cx="406.2" cy="593.9" r="0.9" fill="#b45aa8"/>
<circle cx="345.8" cy="538.3" r="1.7" fill="#a8489e"/>
<circle cx="410.2" cy="582.7" r="1.6" fill="#a8489e"/>
<circle cx="384.7" cy="550.4" r="0.9" fill="#6a34a0"/>
<circle cx="399.3" cy="575.3" r="1.1" fill="#7c3090"/>
<circle cx="365.7" cy="531.9" r="1.7" fill="#9a4aa6"/>
<circle cx="331.4" cy="583.2" r="1.6" fill="#c060a8"/>
<circle cx="382.0" cy="563.5" r="1.4" fill="#7c3090"/>
<circle cx="329.8" cy="559.1" r="1.3" fill="#8a3490"/>
<circle cx="336.0" cy="563.0" r="1.3" fill="#b04a9c"/>
<circle cx="346.8" cy="590.3" r="1.4" fill="#b04a9c"/>
<circle cx="353.2" cy="560.7" r="1.0" fill="#9e4298"/>
<circle cx="396.6" cy="598.3" r="1.1" fill="#b04a9c"/>
<circle cx="335.7" cy="578.7" r="1.8" fill="#9a3a90"/>
<circle cx="381.1" cy="596.8" r="1.1" fill="#a8489e"/>
<circle cx="413.2" cy="550.2" r="1.7" fill="#7a3aa4"/>
<circle cx="348.1" cy="542.0" r="1.6" fill="#74308e"/>
<circle cx="371.8" cy="599.2" r="1.6" fill="#a8489e"/>
<circle cx="384.3" cy="555.1" r="1.7" fill="#5e2c8e"/>
<circle cx="408.4" cy="582.1" r="1.7" fill="#b45aa8"/>
<circle cx="329.3" cy="544.8" r="1.2" fill="#7c3090"/>
<circle cx="376.8" cy="542.4" r="1.0" fill="#b060b0"/>
<circle cx="369.1" cy="567.3" r="1.6" fill="#74308e"/>
<circle cx="386.0" cy="554.7" r="1.3" fill="#9a4aa6"/>
<circle cx="406.2" cy="561.7" r="1.5" fill="#8a44a8"/>
<circle cx="342.5" cy="560.9" r="1.4" fill="#c060a8"/>
<circle cx="338.5" cy="562.5" r="1.0" fill="#7a3090"/>
<circle cx="344.5" cy="551.4" r="1.6" fill="#74308e"/>
<circle cx="383.4" cy="580.6" r="1.5" fill="#6a2a8a"/>
<circle cx="382.0" cy="554.7" r="1.1" fill="#7a3aa4"/>
<circle cx="344.3" cy="598.1" r="1.8" fill="#7a3090"/>
<circle cx="342.0" cy="576.1" r="1.2" fill="#9a3a90"/>
<circle cx="416.8" cy="585.6" r="1.1" fill="#74308e"/>
<circle cx="352.0" cy="538.1" r="1.1" fill="#a8489e"/>
<circle cx="407.8" cy="562.6" r="1.2" fill="#6a34a0"/>
<circle cx="399.2" cy="578.6" r="1.8" fill="#9e4298"/>
<circle cx="354.0" cy="532.0" r="1.4" fill="#9a4aa6"/>
<circle cx="364.0" cy="581.8" r="1.5" fill="#8a3490"/>
<circle cx="380.6" cy="575.4" r="1.5" fill="#6a2a8a"/>
<circle cx="386.6" cy="591.3" r="1.5" fill="#7a3090"/>
<circle cx="404.8" cy="577.6" r="0.9" fill="#74308e"/>
<circle cx="366.5" cy="548.5" r="0.9" fill="#74308e"/>
<circle cx="365.3" cy="584.7" r="1.5" fill="#7a3090"/>
<circle cx="341.3" cy="589.4" r="1.3" fill="#8a3490"/>
<circle cx="383.7" cy="558.9" r="1.5" fill="#b060b0"/>
<circle cx="406.7" cy="592.5" r="1.6" fill="#7c3090"/>
<circle cx="362.5" cy="564.4" r="0.8" fill="#a8489e"/>
<circle cx="376.6" cy="541.6" r="1.3" fill="#7a3aa4"/>
<circle cx="336.2" cy="570.3" r="1.0" fill="#a8489e"/>
<circle cx="370.4" cy="531.6" r="1.3" fill="#9a4aa6"/>
<circle cx="364.5" cy="596.2" r="1.8" fill="#9a3a90"/>
<circle cx="343.8" cy="566.1" r="1.5" fill="#b04a9c"/>
<circle cx="383.1" cy="574.7" r="1.1" fill="#7c3090"/>
<circle cx="363.5" cy="531.4" r="1.7" fill="#5e2c8e"/>
<circle cx="384.4" cy="577.3" r="1.1" fill="#9e4298"/>
<circle cx="347.5" cy="581.9" r="1.8" fill="#a8489e"/>
<circle cx="417.8" cy="597.1" r="1.0" fill="#b45aa8"/>
<circle cx="338.8" cy="584.3" r="1.0" fill="#7a3090"/>
<circle cx="385.6" cy="580.4" r="1.2" fill="#6a2a8a"/>
<circle cx="385.3" cy="587.2" r="1.3" fill="#b45aa8"/>
<circle cx="353.9" cy="568.5" r="1.6" fill="#9a3a90"/>
<circle cx="369.9" cy="584.8" r="1.1" fill="#9a3a90"/>
<circle cx="361.3" cy="548.1" r="1.5" fill="#b45aa8"/>
<circle cx="371.0" cy="586.3" r="1.2" fill="#c060a8"/>
<circle cx="386.7" cy="552.7" r="1.2" fill="#5e2c8e"/>
<circle cx="385.2" cy="576.2" r="1.0" fill="#7c3090"/>
<circle cx="354.7" cy="557.2" r="1.6" fill="#a8489e"/>
<circle cx="409.7" cy="584.8" r="1.3" fill="#6a2a8a"/>
<circle cx="358.5" cy="570.9" r="0.8" fill="#7a3090"/>
<circle cx="413.9" cy="576.0" r="1.4" fill="#9a4aa6"/>
<circle cx="379.8" cy="589.7" r="1.6" fill="#9a3a90"/>
<circle cx="358.6" cy="541.1" r="1.6" fill="#b45aa8"/>
<circle cx="342.3" cy="592.3" r="1.8" fill="#a8489e"/>
<circle cx="335.3" cy="593.0" r="1.6" fill="#a8489e"/>
<circle cx="403.6" cy="544.2" r="1.0" fill="#b060b0"/>
<circle cx="334.2" cy="588.7" r="1.7" fill="#7a3090"/>
<circle cx="377.7" cy="548.8" r="1.6" fill="#7a3aa4"/>
<circle cx="370.2" cy="569.1" r="1.3" fill="#b45aa8"/>
<circle cx="340.2" cy="564.6" r="1.0" fill="#8a3490"/>
<circle cx="381.7" cy="581.4" r="1.6" fill="#6a2a8a"/>
<circle cx="369.7" cy="569.5" r="1.1" fill="#74308e"/>
<circle cx="369.5" cy="560.0" r="0.9" fill="#74308e"/>
<circle cx="385.2" cy="574.6" r="0.8" fill="#a8489e"/>
<circle cx="331.2" cy="581.5" r="1.6" fill="#c060a8"/>
<circle cx="335.6" cy="564.1" r="0.8" fill="#9a3a90"/>
<circle cx="392.6" cy="573.8" r="0.9" fill="#7c3090"/>
<circle cx="387.2" cy="554.2" r="1.4" fill="#8a44a8"/>
<circle cx="410.3" cy="550.2" r="1.2" fill="#9a4aa6"/>
<circle cx="377.6" cy="587.8" r="1.2" fill="#c060a8"/>
<circle cx="372.1" cy="553.6" r="1.7" fill="#7c3090"/>
<circle cx="358.5" cy="544.6" r="1.6" fill="#b45aa8"/>
<circle cx="357.2" cy="552.5" r="0.9" fill="#7c3090"/>
<circle cx="415.8" cy="536.6" r="1.2" fill="#6a34a0"/>
<circle cx="377.6" cy="558.6" r="0.8" fill="#9e4298"/>
<circle cx="354.4" cy="530.9" r="1.6" fill="#7a3aa4"/>
<circle cx="370.4" cy="583.6" r="1.6" fill="#b04a9c"/>
<circle cx="410.1" cy="572.9" r="0.9" fill="#8a44a8"/>
<circle cx="388.5" cy="578.3" r="0.9" fill="#74308e"/>
<circle cx="330.6" cy="574.4" r="1.6" fill="#7a3090"/>
<circle cx="336.3" cy="543.1" r="1.2" fill="#a8489e"/>
<circle cx="336.2" cy="595.0" r="1.2" fill="#b04a9c"/>
<circle cx="402.1" cy="585.0" r="1.5" fill="#9e4298"/>
<circle cx="405.7" cy="543.3" r="1.1" fill="#6a34a0"/>
<circle cx="366.3" cy="575.0" r="1.3" fill="#b04a9c"/>
<circle cx="374.7" cy="587.7" r="1.4" fill="#8a3490"/>
<circle cx="410.9" cy="561.4" r="1.5" fill="#6a34a0"/>
<circle cx="381.2" cy="599.3" r="1.8" fill="#7a3090"/>
<circle cx="370.4" cy="559.1" r="0.9" fill="#a8489e"/>
<circle cx="370.1" cy="592.6" r="0.8" fill="#7a3090"/>
<circle cx="327.4" cy="577.9" r="1.8" fill="#b04a9c"/>
<circle cx="405.4" cy="545.6" r="0.9" fill="#6a34a0"/>
<circle cx="328.6" cy="580.4" r="1.3" fill="#9a3a90"/>
<circle cx="394.9" cy="594.5" r="1.6" fill="#7c3090"/>
<circle cx="392.1" cy="589.8" r="1.6" fill="#74308e"/>
<circle cx="353.8" cy="569.1" r="1.3" fill="#8a3490"/>
<circle cx="412.1" cy="548.1" r="1.5" fill="#6a34a0"/>
<circle cx="328.0" cy="531.5" r="1.5" fill="#74308e"/>
<circle cx="383.4" cy="557.5" r="1.5" fill="#9a4aa6"/>
<circle cx="342.2" cy="590.2" r="1.4" fill="#8a3490"/>
<circle cx="355.9" cy="596.2" r="1.2" fill="#7a3090"/>
<circle cx="388.8" cy="540.5" r="1.2" fill="#6a34a0"/>
<circle cx="385.9" cy="574.1" r="1.3" fill="#b45aa8"/>
<circle cx="398.0" cy="561.9" r="1.6" fill="#9a4aa6"/>
<circle cx="378.8" cy="550.8" r="1.4" fill="#6a34a0"/>
<circle cx="386.4" cy="586.1" r="1.1" fill="#9e4298"/>
<circle cx="382.3" cy="598.2" r="1.4" fill="#9a3a90"/>
<circle cx="355.2" cy="560.2" r="1.2" fill="#6a2a8a"/>
<circle cx="389.5" cy="572.2" r="1.6" fill="#6a2a8a"/>
<circle cx="352.9" cy="530.6" r="1.1" fill="#9a4aa6"/>
<circle cx="341.4" cy="594.3" r="1.1" fill="#b04a9c"/>
<circle cx="339.8" cy="592.2" r="0.9" fill="#a8489e"/>
<circle cx="416.1" cy="585.8" r="1.5" fill="#9e4298"/>
<circle cx="410.4" cy="554.5" r="1.3" fill="#6a34a0"/>
<circle cx="371.3" cy="557.0" r="1.7" fill="#74308e"/>
<circle cx="348.4" cy="572.6" r="1.2" fill="#7a3090"/>
<circle cx="391.7" cy="594.7" r="1.6" fill="#a8489e"/>
<circle cx="399.3" cy="562.4" r="1.3" fill="#6a34a0"/>
<circle cx="359.4" cy="534.8" r="1.4" fill="#5e2c8e"/>
<circle cx="408.9" cy="591.8" r="1.1" fill="#9e4298"/>
<circle cx="373.2" cy="544.5" r="1.0" fill="#7a3aa4"/>
<circle cx="343.5" cy="579.1" r="1.4" fill="#c060a8"/>
<circle cx="359.8" cy="584.5" r="1.0" fill="#9a3a90"/>
<circle cx="411.2" cy="564.7" r="1.2" fill="#6a34a0"/>
<circle cx="369.3" cy="536.2" r="1.4" fill="#9a4aa6"/>
<circle cx="358.5" cy="566.5" r="0.9" fill="#a8489e"/>
<circle cx="345.7" cy="590.8" r="1.3" fill="#a8489e"/>
<circle cx="378.8" cy="548.6" r="1.2" fill="#9a4aa6"/>
<circle cx="413.4" cy="583.7" r="1.8" fill="#9e4298"/>
<circle cx="350.2" cy="533.1" r="1.8" fill="#7a3aa4"/>
<circle cx="361.5" cy="532.4" r="1.4" fill="#6a34a0"/>
<circle cx="406.5" cy="562.3" r="1.7" fill="#6a34a0"/>
<circle cx="385.4" cy="594.4" r="1.8" fill="#7a3090"/>
<circle cx="350.5" cy="569.6" r="0.9" fill="#7a3090"/>
<circle cx="411.1" cy="565.6" r="1.2" fill="#7a3aa4"/>
<circle cx="341.6" cy="597.4" r="1.0" fill="#7a3090"/>
<circle cx="330.5" cy="548.2" r="0.9" fill="#c060a8"/>
<circle cx="377.5" cy="532.4" r="1.1" fill="#6a34a0"/>
<circle cx="373.9" cy="581.8" r="0.9" fill="#8a3490"/>
<circle cx="340.2" cy="582.8" r="1.5" fill="#9a3a90"/>
<circle cx="354.3" cy="571.5" r="0.9" fill="#7a3090"/>
<circle cx="356.6" cy="548.3" r="1.2" fill="#a8489e"/>
<circle cx="361.7" cy="561.1" r="1.7" fill="#6a2a8a"/>
<circle cx="408.5" cy="562.9" r="1.6" fill="#7a3aa4"/>
<circle cx="341.3" cy="588.2" r="1.7" fill="#b04a9c"/>
<circle cx="406.1" cy="592.1" r="1.6" fill="#6a2a8a"/>
<circle cx="414.5" cy="594.7" r="1.6" fill="#b45aa8"/>
<circle cx="384.4" cy="561.8" r="1.1" fill="#7c3090"/>
<circle cx="348.4" cy="538.5" r="0.9" fill="#7c3090"/>
<circle cx="347.2" cy="534.4" r="1.3" fill="#74308e"/>
<circle cx="408.2" cy="560.9" r="1.1" fill="#7a3aa4"/>
<circle cx="364.6" cy="541.3" r="1.4" fill="#9a4aa6"/>
<circle cx="354.1" cy="586.2" r="1.3" fill="#c060a8"/>
<circle cx="356.0" cy="593.1" r="1.0" fill="#b04a9c"/>
<circle cx="373.9" cy="574.2" r="1.7" fill="#74308e"/>
<circle cx="378.1" cy="588.4" r="1.1" fill="#b04a9c"/>
<circle cx="345.4" cy="555.7" r="1.8" fill="#7c3090"/>
<circle cx="411.5" cy="537.3" r="1.2" fill="#9a4aa6"/>
<circle cx="341.8" cy="588.2" r="0.9" fill="#c060a8"/>
<circle cx="385.4" cy="561.1" r="1.1" fill="#9e4298"/>
<circle cx="339.8" cy="530.6" r="1.1" fill="#9e4298"/>
<circle cx="359.9" cy="533.3" r="1.0" fill="#5e2c8e"/>
<circle cx="379.2" cy="540.1" r="1.3" fill="#7a3aa4"/>
<circle cx="348.0" cy="542.7" r="0.9" fill="#9e4298"/>
<circle cx="335.0" cy="572.7" r="1.6" fill="#8a3490"/>
<circle cx="343.0" cy="540.0" r="1.5" fill="#74308e"/>
<circle cx="401.1" cy="570.9" r="0.8" fill="#7a3aa4"/>
<circle cx="390.2" cy="566.5" r="1.7" fill="#74308e"/>
<circle cx="374.3" cy="554.6" r="1.6" fill="#7c3090"/>
<circle cx="405.9" cy="564.7" r="1.2" fill="#6a34a0"/>
<circle cx="396.7" cy="539.7" r="1.1" fill="#b060b0"/>
<circle cx="344.0" cy="588.1" r="0.8" fill="#c060a8"/>
<circle cx="391.1" cy="570.3" r="1.2" fill="#a8489e"/>
<circle cx="412.1" cy="597.6" r="0.9" fill="#a8489e"/>
<circle cx="392.2" cy="587.1" r="1.6" fill="#7c3090"/>
<circle cx="406.3" cy="570.4" r="1.1" fill="#6a34a0"/>
<circle cx="336.8" cy="581.2" r="1.3" fill="#8a3490"/>
<circle cx="375.4" cy="567.7" r="1.0" fill="#a8489e"/>
<circle cx="335.1" cy="573.4" r="0.9" fill="#9a3a90"/>
<circle cx="349.9" cy="587.1" r="0.8" fill="#b04a9c"/>
<circle cx="411.6" cy="581.7" r="0.8" fill="#7c3090"/>
<circle cx="381.7" cy="570.5" r="1.0" fill="#9e4298"/>
<circle cx="367.6" cy="554.8" r="1.5" fill="#a8489e"/>
<circle cx="331.1" cy="539.0" r="1.4" fill="#b45aa8"/>
<circle cx="396.5" cy="538.1" r="1.2" fill="#6a34a0"/>
<circle cx="339.5" cy="571.5" r="0.9" fill="#9a3a90"/>
<circle cx="379.3" cy="582.2" r="1.7" fill="#6a2a8a"/>
<circle cx="328.7" cy="574.5" r="1.2" fill="#7a3090"/>
<circle cx="403.7" cy="566.9" r="1.8" fill="#5e2c8e"/>
<circle cx="331.7" cy="555.7" r="1.0" fill="#8a3490"/>
<circle cx="357.6" cy="560.7" r="1.6" fill="#9e4298"/>
<circle cx="410.3" cy="587.0" r="0.9" fill="#9e4298"/>
<circle cx="374.2" cy="596.9" r="1.0" fill="#c060a8"/>
<circle cx="365.5" cy="574.3" r="0.9" fill="#c060a8"/>
<circle cx="344.1" cy="553.0" r="1.3" fill="#6a2a8a"/>
<circle cx="328.9" cy="540.2" r="1.6" fill="#b45aa8"/>
<circle cx="412.5" cy="574.4" r="0.8" fill="#6a34a0"/>
<circle cx="385.6" cy="548.9" r="1.4" fill="#b060b0"/>
<circle cx="384.4" cy="586.4" r="1.4" fill="#a8489e"/>
<circle cx="349.9" cy="566.6" r="1.0" fill="#8a3490"/>
<circle cx="330.6" cy="538.3" r="1.4" fill="#7c3090"/>
<circle cx="338.0" cy="571.7" r="1.7" fill="#a8489e"/>
<circle cx="334.7" cy="571.4" r="1.2" fill="#9a3a90"/>
<circle cx="373.7" cy="591.8" r="1.4" fill="#8a3490"/>
<circle cx="352.0" cy="581.5" r="1.3" fill="#7a3090"/>
<circle cx="403.7" cy="572.8" r="1.0" fill="#8a44a8"/>
<circle cx="362.3" cy="568.5" r="1.3" fill="#7c3090"/>
<circle cx="377.0" cy="573.0" r="1.6" fill="#b45aa8"/>
<circle cx="329.8" cy="553.6" r="1.3" fill="#9a3a90"/>
<circle cx="362.0" cy="571.1" r="1.7" fill="#b04a9c"/>
<circle cx="341.8" cy="596.5" r="1.4" fill="#c060a8"/>
<circle cx="371.9" cy="550.2" r="1.1" fill="#7a3aa4"/>
<circle cx="397.5" cy="541.5" r="1.4" fill="#6a34a0"/>
<circle cx="358.8" cy="576.1" r="1.2" fill="#a8489e"/>
<circle cx="367.2" cy="581.5" r="1.3" fill="#b04a9c"/>
<circle cx="417.3" cy="577.5" r="1.2" fill="#7a3aa4"/>
<circle cx="388.0" cy="540.2" r="1.4" fill="#7a3aa4"/>
<circle cx="404.6" cy="587.4" r="0.9" fill="#9e4298"/>
<circle cx="405.2" cy="594.4" r="1.1" fill="#b45aa8"/>
<circle cx="384.6" cy="574.3" r="0.9" fill="#74308e"/>
<circle cx="406.5" cy="530.8" r="1.4" fill="#8a44a8"/>
<circle cx="372.5" cy="597.2" r="0.9" fill="#a8489e"/>
<circle cx="404.6" cy="549.9" r="1.4" fill="#8a44a8"/>
<circle cx="361.7" cy="561.8" r="1.1" fill="#b45aa8"/>
<circle cx="359.2" cy="555.0" r="1.4" fill="#9e4298"/>
<circle cx="362.1" cy="552.8" r="1.6" fill="#74308e"/>
<circle cx="372.6" cy="561.3" r="1.3" fill="#6a2a8a"/>
<circle cx="400.3" cy="560.7" r="1.4" fill="#5e2c8e"/>
<circle cx="335.0" cy="594.3" r="1.8" fill="#c060a8"/>
<circle cx="382.5" cy="547.3" r="1.0" fill="#9a4aa6"/>
<circle cx="365.9" cy="593.6" r="0.8" fill="#b04a9c"/>
<circle cx="350.4" cy="592.6" r="1.7" fill="#c060a8"/>
<circle cx="397.6" cy="567.8" r="1.3" fill="#5e2c8e"/>
<circle cx="374.2" cy="578.0" r="1.3" fill="#b45aa8"/>
<circle cx="330.7" cy="577.4" r="1.7" fill="#8a3490"/>
<circle cx="388.8" cy="566.9" r="1.2" fill="#a8489e"/>
<circle cx="372.7" cy="575.4" r="1.0" fill="#9e4298"/>
<circle cx="344.2" cy="559.7" r="1.2" fill="#8a3490"/>
<circle cx="384.0" cy="599.5" r="1.5" fill="#c060a8"/>
<circle cx="395.2" cy="536.9" r="1.1" fill="#9a4aa6"/>
<circle cx="416.3" cy="587.7" r="1.0" fill="#9e4298"/>
<circle cx="386.9" cy="550.9" r="1.6" fill="#9a4aa6"/>
<circle cx="417.4" cy="592.0" r="1.4" fill="#b45aa8"/>
<circle cx="374.8" cy="587.1" r="1.3" fill="#9a3a90"/>
<circle cx="344.2" cy="543.1" r="1.4" fill="#74308e"/>
<circle cx="336.7" cy="570.0" r="1.4" fill="#7a3090"/>
<circle cx="330.9" cy="559.0" r="1.1" fill="#b04a9c"/>
<circle cx="390.1" cy="530.8" r="1.2" fill="#9a4aa6"/>
<circle cx="336.0" cy="531.6" r="1.0" fill="#a8489e"/>
<circle cx="372.5" cy="568.8" r="1.7" fill="#7c3090"/>
<circle cx="408.8" cy="566.1" r="1.4" fill="#7a3aa4"/>
<circle cx="364.5" cy="538.9" r="1.3" fill="#7a3aa4"/>
<circle cx="373.5" cy="532.5" r="1.0" fill="#6a34a0"/>
<circle cx="374.7" cy="587.5" r="1.2" fill="#a8489e"/>
<circle cx="400.1" cy="575.6" r="1.6" fill="#74308e"/>
<circle cx="356.5" cy="580.1" r="1.1" fill="#c060a8"/>
<circle cx="330.0" cy="574.1" r="0.9" fill="#a8489e"/>
<circle cx="344.5" cy="573.7" r="0.9" fill="#b04a9c"/>
<circle cx="408.3" cy="570.9" r="1.2" fill="#6a34a0"/>
<circle cx="383.6" cy="547.8" r="1.0" fill="#6a34a0"/>
<circle cx="380.6" cy="542.5" r="1.7" fill="#6a34a0"/>
<circle cx="401.5" cy="551.5" r="1.1" fill="#8a44a8"/>
<circle cx="408.0" cy="598.4" r="1.0" fill="#a8489e"/>
<circle cx="362.6" cy="580.3" r="1.2" fill="#9a3a90"/>
<circle cx="363.4" cy="579.8" r="1.6" fill="#b04a9c"/>
<circle cx="349.2" cy="542.5" r="1.2" fill="#7c3090"/>
<circle cx="327.7" cy="591.6" r="1.4" fill="#8a3490"/>
<circle cx="337.5" cy="567.5" r="1.1" fill="#8a3490"/>
<circle cx="386.5" cy="597.1" r="1.6" fill="#8a3490"/>
<circle cx="359.1" cy="547.5" r="1.3" fill="#6a2a8a"/>
<circle cx="358.5" cy="560.7" r="1.5" fill="#7c3090"/>
<circle cx="358.2" cy="541.3" r="0.9" fill="#74308e"/>
<circle cx="344.9" cy="568.3" r="1.4" fill="#9a3a90"/>
<circle cx="369.6" cy="585.6" r="1.0" fill="#9a3a90"/>
<circle cx="359.2" cy="580.6" r="1.4" fill="#8a3490"/>
<circle cx="380.0" cy="551.1" r="1.3" fill="#5e2c8e"/>
<circle cx="347.8" cy="561.9" r="1.7" fill="#9a3a90"/>
<circle cx="418.1" cy="571.8" r="1.4" fill="#5e2c8e"/>
<circle cx="360.6" cy="547.6" r="1.3" fill="#9e4298"/>
<circle cx="338.5" cy="582.5" r="1.3" fill="#7a3090"/>
<circle cx="376.5" cy="549.2" r="0.8" fill="#5e2c8e"/>
<circle cx="392.6" cy="540.6" r="1.2" fill="#6a34a0"/>
<circle cx="334.9" cy="542.8" r="1.1" fill="#6a2a8a"/>
<circle cx="387.5" cy="538.1" r="1.7" fill="#8a44a8"/>
<circle cx="400.5" cy="583.1" r="0.9" fill="#6a2a8a"/>
<circle cx="355.4" cy="546.2" r="1.6" fill="#6a2a8a"/>
<circle cx="363.4" cy="555.2" r="1.6" fill="#b45aa8"/>
<circle cx="407.6" cy="590.2" r="1.7" fill="#6a2a8a"/>
<circle cx="343.1" cy="555.9" r="1.5" fill="#74308e"/>
<circle cx="408.9" cy="532.3" r="1.5" fill="#b060b0"/>
<circle cx="349.7" cy="589.2" r="1.7" fill="#c060a8"/>
<circle cx="335.9" cy="550.7" r="1.7" fill="#7c3090"/>
<circle cx="394.0" cy="579.9" r="1.2" fill="#a8489e"/>
<circle cx="382.6" cy="560.3" r="1.0" fill="#7c3090"/>
<circle cx="394.4" cy="568.8" r="1.4" fill="#74308e"/>
<circle cx="343.4" cy="588.7" r="1.3" fill="#a8489e"/>
<circle cx="374.5" cy="594.7" r="1.5" fill="#7a3090"/>
<circle cx="358.9" cy="530.6" r="1.1" fill="#b060b0"/>
<circle cx="330.9" cy="589.7" r="1.5" fill="#a8489e"/>
<circle cx="415.9" cy="577.7" r="1.6" fill="#6a34a0"/>
<circle cx="346.2" cy="593.9" r="1.7" fill="#7a3090"/>
<circle cx="365.1" cy="582.1" r="1.4" fill="#7a3090"/>
<circle cx="347.2" cy="567.0" r="1.7" fill="#c060a8"/>
<circle cx="365.7" cy="595.0" r="1.3" fill="#7a3090"/>
<circle cx="389.9" cy="588.6" r="1.3" fill="#74308e"/>
<circle cx="332.0" cy="578.9" r="1.5" fill="#8a3490"/>
<circle cx="404.3" cy="584.4" r="1.6" fill="#b45aa8"/>
<circle cx="331.0" cy="579.2" r="1.1" fill="#a8489e"/>
<circle cx="376.9" cy="597.7" r="1.0" fill="#7a3090"/>
<circle cx="350.8" cy="597.3" r="1.2" fill="#9a3a90"/>
<circle cx="364.6" cy="544.5" r="0.9" fill="#9a4aa6"/>
<circle cx="389.7" cy="564.2" r="1.0" fill="#b45aa8"/>
<circle cx="349.1" cy="566.2" r="0.9" fill="#8a3490"/>
<circle cx="385.5" cy="578.9" r="1.7" fill="#6a2a8a"/>
<circle cx="340.0" cy="569.5" r="1.4" fill="#c060a8"/>
<circle cx="337.8" cy="559.9" r="1.5" fill="#9a3a90"/>
<circle cx="341.1" cy="598.4" r="1.6" fill="#8a3490"/>
<circle cx="337.5" cy="550.6" r="1.3" fill="#7c3090"/>
<circle cx="331.0" cy="592.6" r="1.0" fill="#c060a8"/>
<circle cx="391.1" cy="561.5" r="1.0" fill="#6a34a0"/>
<circle cx="367.6" cy="569.9" r="1.0" fill="#7c3090"/>
<circle cx="333.6" cy="531.2" r="0.9" fill="#b45aa8"/>
<circle cx="392.5" cy="598.4" r="1.1" fill="#a8489e"/>
<circle cx="385.9" cy="596.8" r="1.0" fill="#8a3490"/>
<circle cx="376.6" cy="531.1" r="1.4" fill="#6a34a0"/>
<circle cx="384.3" cy="595.3" r="1.5" fill="#7a3090"/>
<circle cx="386.6" cy="535.9" r="0.8" fill="#b060b0"/>
<circle cx="397.7" cy="588.7" r="1.2" fill="#7c3090"/>
<circle cx="414.8" cy="566.9" r="1.0" fill="#b060b0"/>
<circle cx="398.6" cy="588.0" r="1.4" fill="#74308e"/>
<circle cx="361.6" cy="575.4" r="1.1" fill="#c060a8"/>
<circle cx="360.6" cy="568.7" r="1.6" fill="#7c3090"/>
<circle cx="350.1" cy="534.5" r="1.4" fill="#a8489e"/>
<circle cx="384.4" cy="587.3" r="1.2" fill="#74308e"/>
<circle cx="331.6" cy="545.5" r="1.3" fill="#b45aa8"/>
<circle cx="341.4" cy="551.3" r="1.4" fill="#9e4298"/>
<circle cx="340.0" cy="546.3" r="1.2" fill="#6a2a8a"/>
<circle cx="415.5" cy="536.7" r="1.7" fill="#6a34a0"/>
<circle cx="370.8" cy="545.6" r="0.8" fill="#9a4aa6"/>
<circle cx="403.8" cy="589.8" r="1.2" fill="#9e4298"/>
<circle cx="352.9" cy="576.4" r="1.5" fill="#a8489e"/>
<circle cx="408.3" cy="534.8" r="1.5" fill="#6a34a0"/>
<circle cx="402.4" cy="593.1" r="1.2" fill="#6a2a8a"/>
<circle cx="327.4" cy="586.2" r="1.1" fill="#7a3090"/>
<circle cx="344.8" cy="536.4" r="1.3" fill="#7c3090"/>
<circle cx="366.1" cy="567.6" r="1.7" fill="#74308e"/>
<circle cx="416.0" cy="597.2" r="0.9" fill="#9e4298"/>
<circle cx="400.9" cy="580.6" r="1.4" fill="#7c3090"/>
<circle cx="354.1" cy="570.1" r="1.3" fill="#c060a8"/>
<circle cx="386.1" cy="551.2" r="1.3" fill="#9a4aa6"/>
<circle cx="384.9" cy="589.3" r="1.5" fill="#9a3a90"/>
<circle cx="367.8" cy="536.4" r="1.4" fill="#b060b0"/>
<circle cx="377.7" cy="595.9" r="1.3" fill="#c060a8"/>
<circle cx="378.6" cy="558.0" r="1.0" fill="#a8489e"/>
<circle cx="415.4" cy="544.6" r="0.9" fill="#b060b0"/>
<circle cx="405.7" cy="548.1" r="1.0" fill="#6a34a0"/>
<circle cx="388.2" cy="579.6" r="1.4" fill="#6a2a8a"/>
<circle cx="347.7" cy="570.2" r="1.5" fill="#b04a9c"/>
<circle cx="410.0" cy="569.8" r="1.5" fill="#5e2c8e"/>
<circle cx="400.1" cy="539.8" r="1.4" fill="#8a44a8"/>
<circle cx="392.2" cy="583.0" r="1.4" fill="#a8489e"/>
<circle cx="414.7" cy="566.2" r="1.6" fill="#5e2c8e"/>
<circle cx="362.8" cy="542.4" r="1.4" fill="#7a3aa4"/>
<circle cx="397.8" cy="540.0" r="0.9" fill="#8a44a8"/>
<circle cx="348.6" cy="556.3" r="1.5" fill="#a8489e"/>
<circle cx="414.2" cy="562.4" r="1.5" fill="#6a34a0"/>
<circle cx="365.9" cy="592.1" r="1.8" fill="#a8489e"/>
<circle cx="345.4" cy="538.4" r="1.7" fill="#74308e"/>
<circle cx="342.3" cy="582.2" r="1.6" fill="#c060a8"/>
<circle cx="394.2" cy="531.3" r="0.9" fill="#9a4aa6"/>
<circle cx="361.1" cy="581.6" r="1.5" fill="#c060a8"/>
<circle cx="331.0" cy="572.3" r="1.2" fill="#b04a9c"/>
<circle cx="356.9" cy="572.3" r="1.7" fill="#b04a9c"/>
<circle cx="388.6" cy="548.1" r="1.5" fill="#7a3aa4"/>
<circle cx="328.9" cy="599.0" r="0.9" fill="#8a3490"/>
<circle cx="328.9" cy="538.2" r="1.0" fill="#7c3090"/>
<circle cx="377.6" cy="550.6" r="1.5" fill="#b060b0"/>
<circle cx="403.3" cy="571.3" r="1.3" fill="#9a4aa6"/>
<circle cx="390.0" cy="586.5" r="0.8" fill="#b45aa8"/>
<circle cx="358.3" cy="541.0" r="1.3" fill="#9e4298"/>
<circle cx="329.9" cy="588.5" r="1.0" fill="#b04a9c"/>
<circle cx="401.7" cy="577.6" r="1.6" fill="#b45aa8"/>
<circle cx="415.3" cy="578.5" r="1.2" fill="#5e2c8e"/>
<circle cx="406.7" cy="572.8" r="1.2" fill="#6a34a0"/>
<circle cx="375.2" cy="552.1" r="1.4" fill="#7a3aa4"/>
<circle cx="331.0" cy="542.3" r="1.5" fill="#7c3090"/>
<circle cx="357.3" cy="563.0" r="1.1" fill="#7c3090"/>
<circle cx="357.6" cy="564.0" r="0.8" fill="#6a2a8a"/>
<circle cx="368.9" cy="598.9" r="1.4" fill="#b04a9c"/>
<circle cx="393.4" cy="540.5" r="1.1" fill="#5e2c8e"/>
<circle cx="372.7" cy="548.7" r="1.4" fill="#8a44a8"/>
<circle cx="380.4" cy="540.1" r="0.8" fill="#b060b0"/>
<circle cx="378.2" cy="583.9" r="1.6" fill="#9a3a90"/>
<circle cx="384.8" cy="574.5" r="1.6" fill="#7c3090"/>
<circle cx="399.4" cy="547.0" r="1.5" fill="#7a3aa4"/>
<circle cx="354.8" cy="583.4" r="1.2" fill="#7a3090"/>
<circle cx="404.9" cy="547.5" r="1.5" fill="#8a44a8"/>
<circle cx="357.5" cy="579.3" r="1.1" fill="#7a3090"/>
<circle cx="417.2" cy="563.9" r="1.7" fill="#9a4aa6"/>
<circle cx="400.9" cy="599.6" r="0.9" fill="#6a2a8a"/>
<circle cx="327.7" cy="590.9" r="1.2" fill="#8a3490"/>
<circle cx="363.2" cy="584.0" r="1.4" fill="#9a3a90"/>
<circle cx="340.1" cy="580.4" r="1.5" fill="#c060a8"/>
<circle cx="377.3" cy="595.5" r="0.9" fill="#c060a8"/>
<circle cx="344.4" cy="594.6" r="1.0" fill="#a8489e"/>
<circle cx="380.0" cy="598.9" r="1.8" fill="#c060a8"/>
<circle cx="390.0" cy="580.5" r="1.6" fill="#a8489e"/>
<circle cx="356.1" cy="542.6" r="1.3" fill="#7c3090"/>
<circle cx="396.3" cy="573.9" r="1.5" fill="#6a2a8a"/>
<circle cx="346.9" cy="558.2" r="1.7" fill="#6a2a8a"/>
<circle cx="352.8" cy="565.3" r="1.0" fill="#b04a9c"/>
<circle cx="394.0" cy="597.2" r="0.8" fill="#a8489e"/>
<circle cx="333.7" cy="587.1" r="1.1" fill="#a8489e"/>
<circle cx="339.5" cy="543.5" r="1.4" fill="#9e4298"/>
<circle cx="328.4" cy="552.9" r="1.0" fill="#b04a9c"/>
<circle cx="356.8" cy="582.4" r="1.3" fill="#7a3090"/>
<circle cx="382.7" cy="586.0" r="0.9" fill="#6a2a8a"/>
<circle cx="364.8" cy="533.7" r="1.4" fill="#b060b0"/>
<circle cx="397.8" cy="599.0" r="1.1" fill="#8a3490"/>
<circle cx="369.3" cy="531.4" r="1.4" fill="#9a4aa6"/>
<circle cx="417.2" cy="534.4" r="1.5" fill="#8a44a8"/>
<circle cx="403.2" cy="541.4" r="1.0" fill="#6a34a0"/>
<circle cx="340.0" cy="583.7" r="1.2" fill="#b04a9c"/>
<circle cx="360.0" cy="554.3" r="1.4" fill="#74308e"/>
<circle cx="377.7" cy="576.1" r="1.4" fill="#9e4298"/>
<circle cx="348.0" cy="573.4" r="1.3" fill="#7a3090"/>
<circle cx="329.9" cy="575.4" r="1.6" fill="#7a3090"/>
<circle cx="416.2" cy="561.9" r="1.2" fill="#9a4aa6"/>
<circle cx="375.4" cy="549.5" r="0.8" fill="#9a4aa6"/>
<circle cx="370.4" cy="575.9" r="1.0" fill="#7c3090"/>
<circle cx="384.4" cy="558.3" r="1.7" fill="#6a34a0"/>
<circle cx="384.0" cy="539.0" r="1.3" fill="#8a44a8"/>
<circle cx="377.7" cy="543.1" r="1.2" fill="#8a44a8"/>
<circle cx="340.6" cy="542.8" r="1.7" fill="#74308e"/>
<circle cx="398.1" cy="567.1" r="1.6" fill="#9a4aa6"/>
<circle cx="349.1" cy="598.6" r="1.0" fill="#8a3490"/>
<circle cx="410.3" cy="592.9" r="1.3" fill="#b45aa8"/>
<circle cx="356.6" cy="593.1" r="1.5" fill="#b04a9c"/>
<circle cx="328.4" cy="586.4" r="1.5" fill="#8a3490"/>
<circle cx="359.0" cy="546.3" r="1.2" fill="#b45aa8"/>
<circle cx="410.9" cy="596.0" r="1.7" fill="#74308e"/>
<circle cx="329.8" cy="531.9" r="1.2" fill="#74308e"/>
<circle cx="348.1" cy="544.6" r="1.4" fill="#b45aa8"/>
<circle cx="354.2" cy="599.4" r="1.8" fill="#9a3a90"/>
<circle cx="399.2" cy="563.6" r="1.8" fill="#9a4aa6"/>
<circle cx="339.5" cy="551.3" r="1.1" fill="#a8489e"/>
<circle cx="371.3" cy="592.2" r="1.1" fill="#9a3a90"/>
<circle cx="382.7" cy="596.8" r="1.4" fill="#9a3a90"/>
<circle cx="407.6" cy="545.0" r="1.2" fill="#b060b0"/>
<circle cx="398.2" cy="590.3" r="1.2" fill="#6a2a8a"/>
<circle cx="339.8" cy="595.4" r="0.8" fill="#7a3090"/>
<circle cx="337.2" cy="598.0" r="0.9" fill="#b04a9c"/>
<circle cx="354.6" cy="565.3" r="0.9" fill="#7c3090"/>
<circle cx="342.4" cy="577.8" r="1.2" fill="#b04a9c"/>
<circle cx="385.6" cy="576.6" r="1.7" fill="#b45aa8"/>
<circle cx="416.4" cy="532.8" r="1.0" fill="#7a3aa4"/>
<circle cx="384.3" cy="531.6" r="1.3" fill="#7a3aa4"/>
<circle cx="348.1" cy="560.3" r="1.5" fill="#a8489e"/>
<circle cx="331.4" cy="592.5" r="1.7" fill="#b04a9c"/>
<circle cx="338.0" cy="564.3" r="1.3" fill="#9a3a90"/>
<circle cx="327.2" cy="546.0" r="0.9" fill="#a8489e"/>
<circle cx="394.4" cy="565.2" r="1.3" fill="#6a34a0"/>
<circle cx="403.7" cy="596.8" r="1.1" fill="#a8489e"/>
<circle cx="346.6" cy="597.5" r="1.5" fill="#9a3a90"/>
<circle cx="351.9" cy="542.8" r="1.1" fill="#7c3090"/>
<circle cx="415.2" cy="544.1" r="1.2" fill="#6a34a0"/>
<circle cx="377.8" cy="555.6" r="1.1" fill="#a8489e"/>
<circle cx="330.8" cy="561.9" r="1.3" fill="#c060a8"/>
<circle cx="390.0" cy="598.6" r="1.5" fill="#7a3090"/>
<circle cx="363.5" cy="552.6" r="1.2" fill="#b45aa8"/>
<circle cx="340.8" cy="583.2" r="1.6" fill="#8a3490"/>
<circle cx="409.0" cy="574.5" r="1.4" fill="#7a3aa4"/>
<circle cx="411.6" cy="548.1" r="1.5" fill="#8a44a8"/>
<circle cx="417.5" cy="587.7" r="0.9" fill="#74308e"/>
<circle cx="404.0" cy="584.8" r="0.8" fill="#74308e"/>
<circle cx="390.4" cy="553.0" r="1.2" fill="#b060b0"/>
<circle cx="388.0" cy="562.1" r="0.8" fill="#8a44a8"/>
<circle cx="395.1" cy="589.6" r="1.1" fill="#9e4298"/>
<circle cx="376.9" cy="556.8" r="1.6" fill="#74308e"/>
<circle cx="406.4" cy="555.1" r="1.2" fill="#6a34a0"/>
<circle cx="375.0" cy="573.0" r="1.6" fill="#74308e"/>
<circle cx="333.6" cy="585.8" r="1.0" fill="#7a3090"/>
<circle cx="382.9" cy="548.9" r="1.7" fill="#5e2c8e"/>
<circle cx="358.8" cy="571.4" r="1.0" fill="#a8489e"/>
<circle cx="340.0" cy="594.8" r="1.2" fill="#a8489e"/>
<circle cx="345.7" cy="542.2" r="1.0" fill="#7c3090"/>
<circle cx="342.7" cy="587.5" r="1.0" fill="#8a3490"/>
<circle cx="413.5" cy="589.8" r="1.7" fill="#74308e"/>
<circle cx="330.9" cy="556.9" r="0.9" fill="#8a3490"/>
<circle cx="341.0" cy="547.9" r="1.2" fill="#a8489e"/>
<circle cx="387.5" cy="566.7" r="1.3" fill="#7c3090"/>
<circle cx="335.0" cy="557.9" r="1.5" fill="#8a3490"/>
<circle cx="368.0" cy="563.6" r="1.6" fill="#6a2a8a"/>
<circle cx="340.7" cy="577.6" r="1.3" fill="#c060a8"/>
<circle cx="387.3" cy="573.7" r="1.1" fill="#9e4298"/>
<circle cx="361.8" cy="531.7" r="0.8" fill="#7a3aa4"/>
<circle cx="350.7" cy="571.4" r="1.5" fill="#c060a8"/>
<circle cx="352.1" cy="553.0" r="1.1" fill="#6a2a8a"/>
<circle cx="367.0" cy="566.9" r="1.7" fill="#b45aa8"/>
<circle cx="345.4" cy="559.8" r="1.4" fill="#c060a8"/>
<circle cx="360.9" cy="533.5" r="1.2" fill="#5e2c8e"/>
<circle cx="330.8" cy="582.7" r="1.2" fill="#8a3490"/>
<circle cx="382.5" cy="548.3" r="1.2" fill="#7a3aa4"/>
<circle cx="379.8" cy="594.6" r="1.8" fill="#9a3a90"/>
<circle cx="404.8" cy="570.7" r="1.5" fill="#6a34a0"/>
<circle cx="357.1" cy="535.4" r="1.2" fill="#5e2c8e"/>
<circle cx="375.0" cy="564.9" r="1.6" fill="#74308e"/>
<circle cx="329.3" cy="571.6" r="1.7" fill="#8a3490"/>
<circle cx="391.0" cy="560.7" r="1.0" fill="#5e2c8e"/>
<circle cx="332.9" cy="558.1" r="1.3" fill="#9a3a90"/>
<circle cx="402.3" cy="577.0" r="1.0" fill="#74308e"/>
<circle cx="376.5" cy="594.7" r="1.4" fill="#c060a8"/>
<circle cx="397.2" cy="583.9" r="0.9" fill="#a8489e"/>
<circle cx="404.4" cy="570.1" r="0.9" fill="#6a34a0"/>
<circle cx="335.1" cy="582.7" r="1.3" fill="#a8489e"/>
<circle cx="402.2" cy="544.3" r="1.3" fill="#9a4aa6"/>
<circle cx="332.0" cy="578.4" r="1.6" fill="#8a3490"/>
<circle cx="339.8" cy="558.7" r="1.7" fill="#b04a9c"/>
<circle cx="340.3" cy="553.7" r="1.8" fill="#9e4298"/>
<circle cx="344.0" cy="567.8" r="1.1" fill="#a8489e"/>
<circle cx="355.6" cy="548.2" r="1.4" fill="#7c3090"/>
<circle cx="373.7" cy="559.6" r="1.1" fill="#a8489e"/>
<circle cx="349.7" cy="556.8" r="1.7" fill="#b45aa8"/>
<circle cx="350.5" cy="544.5" r="1.0" fill="#a8489e"/>
<circle cx="386.6" cy="595.1" r="1.3" fill="#7a3090"/>
<circle cx="380.3" cy="555.8" r="1.0" fill="#9a4aa6"/>
<circle cx="410.9" cy="569.0" r="1.5" fill="#6a34a0"/>
<circle cx="327.8" cy="535.2" r="1.6" fill="#9e4298"/>
<circle cx="330.2" cy="545.7" r="1.1" fill="#b45aa8"/>
<circle cx="391.9" cy="586.1" r="1.4" fill="#9e4298"/>
<circle cx="371.2" cy="551.9" r="0.6" fill="#dcb0dc"/>
<circle cx="363.1" cy="541.5" r="1.1" fill="#dcb0dc"/>
<circle cx="360.0" cy="540.2" r="1.1" fill="#dcb0dc"/>
<circle cx="387.6" cy="551.5" r="0.5" fill="#dcb0dc"/>
<circle cx="383.9" cy="554.6" r="0.6" fill="#dcb0dc"/>
<circle cx="363.8" cy="550.3" r="1.0" fill="#dcb0dc"/>
<circle cx="387.1" cy="552.0" r="0.6" fill="#dcb0dc"/>
<circle cx="386.1" cy="554.7" r="0.9" fill="#dcb0dc"/>
<circle cx="373.6" cy="544.0" r="0.6" fill="#dcb0dc"/>
<circle cx="357.0" cy="541.0" r="1.1" fill="#dcb0dc"/>
<circle cx="383.2" cy="549.7" r="0.8" fill="#dcb0dc"/>
<circle cx="389.7" cy="558.7" r="0.6" fill="#dcb0dc"/>
<circle cx="361.4" cy="545.4" r="1.0" fill="#dcb0dc"/>
<circle cx="390.0" cy="556.8" r="1.0" fill="#dcb0dc"/>
<circle cx="383.8" cy="547.7" r="0.7" fill="#dcb0dc"/>
<circle cx="376.9" cy="544.8" r="1.2" fill="#dcb0dc"/>
<circle cx="381.6" cy="546.0" r="1.2" fill="#dcb0dc"/>
<circle cx="368.1" cy="542.1" r="0.7" fill="#dcb0dc"/>
<circle cx="381.2" cy="553.3" r="0.6" fill="#dcb0dc"/>
<circle cx="361.0" cy="541.1" r="0.7" fill="#dcb0dc"/>
<circle cx="371.1" cy="540.8" r="0.7" fill="#dcb0dc"/>
<circle cx="381.3" cy="545.6" r="1.0" fill="#dcb0dc"/>
<circle cx="376.0" cy="542.4" r="0.8" fill="#dcb0dc"/>
<circle cx="355.7" cy="549.6" r="1.1" fill="#dcb0dc"/>
<circle cx="391.5" cy="547.5" r="0.7" fill="#dcb0dc"/>
<circle cx="367.1" cy="548.8" r="1.0" fill="#dcb0dc"/>
<circle cx="363.1" cy="546.1" r="1.0" fill="#dcb0dc"/>
<circle cx="385.6" cy="557.6" r="0.9" fill="#dcb0dc"/>
<circle cx="367.0" cy="548.7" r="0.6" fill="#dcb0dc"/>
<circle cx="355.1" cy="540.1" r="0.6" fill="#dcb0dc"/>
<circle cx="367.0" cy="542.2" r="0.7" fill="#dcb0dc"/>
<circle cx="374.2" cy="546.1" r="0.8" fill="#dcb0dc"/>
<circle cx="359.4" cy="551.2" r="1.1" fill="#dcb0dc"/>
<circle cx="383.9" cy="550.1" r="1.0" fill="#dcb0dc"/>
<circle cx="359.5" cy="540.5" r="0.8" fill="#dcb0dc"/>
<circle cx="338.0" cy="533.2" r="0.9" fill="#dcb0dc"/>
<circle cx="369.4" cy="578.8" r="0.8" fill="#dcb0dc"/>
<circle cx="404.7" cy="535.8" r="1.0" fill="#dcb0dc"/>
<circle cx="396.2" cy="555.4" r="1.0" fill="#dcb0dc"/>
<circle cx="342.5" cy="530.8" r="1.0" fill="#dcb0dc"/>
<circle cx="404.7" cy="551.5" r="0.7" fill="#dcb0dc"/>
<circle cx="343.9" cy="547.0" r="0.6" fill="#dcb0dc"/>
<circle cx="357.5" cy="568.0" r="0.7" fill="#dcb0dc"/>
<circle cx="355.5" cy="569.9" r="0.5" fill="#dcb0dc"/>
<circle cx="356.3" cy="596.3" r="0.7" fill="#dcb0dc"/>
<circle cx="381.3" cy="599.0" r="1.1" fill="#dcb0dc"/>
<circle cx="395.5" cy="567.6" r="0.7" fill="#dcb0dc"/>
<circle cx="342.9" cy="537.8" r="0.5" fill="#dcb0dc"/>
<circle cx="400.9" cy="579.1" r="0.6" fill="#dcb0dc"/>
<circle cx="397.0" cy="536.5" r="0.6" fill="#dcb0dc"/>
<circle cx="405.1" cy="599.7" r="0.8" fill="#dcb0dc"/>
<circle cx="387.0" cy="538.1" r="0.9" fill="#dcb0dc"/>
<circle cx="345.1" cy="576.5" r="0.7" fill="#dcb0dc"/>
<circle cx="355.3" cy="584.2" r="0.9" fill="#dcb0dc"/>
<circle cx="403.2" cy="587.4" r="0.6" fill="#dcb0dc"/>
<circle cx="363.1" cy="537.3" r="0.7" fill="#dcb0dc"/>
<circle cx="399.4" cy="542.6" r="0.7" fill="#dcb0dc"/>
<circle cx="342.0" cy="583.1" r="0.9" fill="#dcb0dc"/>
<circle cx="350.2" cy="552.5" r="1.2" fill="#dcb0dc"/>
<circle cx="400.5" cy="532.7" r="1.1" fill="#dcb0dc"/>
<circle cx="347.3" cy="565.9" r="0.6" fill="#dcb0dc"/>
<circle cx="401.4" cy="583.9" r="0.6" fill="#dcb0dc"/>
<circle cx="412.0" cy="578.0" r="1.0" fill="#dcb0dc"/>
<circle cx="340.6" cy="530.7" r="1.1" fill="#dcb0dc"/>
<circle cx="338.1" cy="566.9" r="0.7" fill="#dcb0dc"/>
<circle cx="340.8" cy="572.3" r="0.5" fill="#dcb0dc"/>
<circle cx="407.2" cy="534.0" r="0.8" fill="#dcb0dc"/>
<circle cx="369.3" cy="575.6" r="1.2" fill="#dcb0dc"/>
<circle cx="383.5" cy="586.2" r="0.8" fill="#dcb0dc"/>
<circle cx="399.3" cy="564.9" r="0.7" fill="#dcb0dc"/>
<circle cx="392.8" cy="551.5" r="0.5" fill="#dcb0dc"/>
<circle cx="373.8" cy="585.1" r="1.0" fill="#dcb0dc"/>
<circle cx="348.7" cy="557.2" r="0.9" fill="#dcb0dc"/>
<circle cx="413.1" cy="566.0" r="1.0" fill="#dcb0dc"/>
<circle cx="384.4" cy="575.9" r="0.9" fill="#dcb0dc"/>
<circle cx="340.7" cy="584.8" r="1.1" fill="#dcb0dc"/>
<circle cx="397.5" cy="589.2" r="0.7" fill="#dcb0dc"/>
<circle cx="383.9" cy="569.4" r="1.1" fill="#dcb0dc"/>
<circle cx="382.9" cy="595.2" r="1.1" fill="#dcb0dc"/>
<circle cx="339.2" cy="576.5" r="0.8" fill="#dcb0dc"/>
<path d="M327 530.5 L337.5 530.5 L327.8 579 L327 580 Z" fill="#dc92b8"/>
<path d="M337.5 530.5 L338.4 530.5 L328.4 579 L327.8 579 Z" fill="#f0d8e8"/>
<rect x="397.70" y="589.70" width="20.60" height="10.10" fill="#fff"/>
</g>
<text x="0" y="0" font-size="8.2" text-anchor="middle" transform="translate(407.50 597.60) rotate(0) scale(1 1.0)" fill="#000" stroke="#000" stroke-width="0.42" >9 m</text>
<rect x="473.90" y="594.30" width="16.30" height="6.20" fill="#b0002d"/>
<rect x="474.35" y="594.75" width="15.40" height="5.30" fill="none" stroke="#000" stroke-opacity="0.28" stroke-width="0.9"/>
<line x1="482.05" y1="594.30" x2="482.05" y2="593.20" stroke="#111" stroke-width="1.1" />
<line x1="478.05" y1="593.20" x2="486.05" y2="593.20" stroke="#111" stroke-width="1.1" />
<rect x="491.40" y="548.90" width="15.50" height="51.60" fill="#2d4e89"/>
<rect x="491.85" y="549.35" width="14.60" height="50.70" fill="none" stroke="#000" stroke-opacity="0.28" stroke-width="0.9"/>
<line x1="499.10" y1="548.90" x2="499.10" y2="542.50" stroke="#111" stroke-width="1.1" />
<line x1="495.10" y1="542.50" x2="503.10" y2="542.50" stroke="#111" stroke-width="1.1" />
<line x1="469.90" y1="516.40" x2="469.90" y2="601.10" stroke="#111" stroke-width="1.2" />
<line x1="469.30" y1="600.50" x2="512.70" y2="600.50" stroke="#111" stroke-width="1.2" />
<line x1="466.00" y1="520.00" x2="469.90" y2="520.00" stroke="#111" stroke-width="1.1" />
<text x="0" y="0" font-size="8.4" text-anchor="end" transform="translate(461.70 523.00) rotate(0) scale(1 1.0)" fill="#1a1a1a" stroke="#1a1a1a" stroke-width="0.42" >10</text>
<line x1="466.00" y1="560.25" x2="469.90" y2="560.25" stroke="#111" stroke-width="1.1" />
<text x="0" y="0" font-size="8.4" text-anchor="end" transform="translate(461.70 563.25) rotate(0) scale(1 1.0)" fill="#1a1a1a" stroke="#1a1a1a" stroke-width="0.42" >5</text>
<line x1="466.00" y1="600.50" x2="469.90" y2="600.50" stroke="#111" stroke-width="1.1" />
<text x="0" y="0" font-size="8.4" text-anchor="end" transform="translate(461.70 603.50) rotate(0) scale(1 1.0)" fill="#1a1a1a" stroke="#1a1a1a" stroke-width="0.42" >0</text>
<path d="M483.40 537.70 L483.40 535.70 L499.50 535.70 L499.50 537.70" fill="none" stroke="#111" stroke-width="1.25"/>
<circle cx="485.43" cy="530.00" r="1.15" fill="#111"/>
<circle cx="489.27" cy="530.00" r="1.15" fill="#111"/>
<circle cx="493.12" cy="530.00" r="1.15" fill="#111"/>
<circle cx="496.97" cy="530.00" r="1.15" fill="#111"/>
<text x="0" y="0" font-size="9.05" text-anchor="middle" transform="translate(446.60 557.80) rotate(-90) scale(1 1.0)" fill="#1a1a1a" stroke="#1a1a1a" stroke-width="0.42" >Blood cellularity (x10<tspan font-size="6" dy="-3.2">9</tspan><tspan dy="3.2"> /ml)</tspan></text>
<text x="0" y="0" font-size="8.3" text-anchor="end" transform="translate(485.30 608.70) rotate(-45) scale(1 1.0)" fill="#1a1a1a" stroke="#1a1a1a" stroke-width="0.42" >Non-transpl.</text>
<text x="0" y="0" font-size="8.3" text-anchor="end" transform="translate(501.20 609.20) rotate(-45) scale(1 1.0)" fill="#1a1a1a" stroke="#1a1a1a" stroke-width="0.42" >Transpl.</text>
<rect x="0" y="0" width="520" height="1" fill="#000"/>
<rect x="0" y="0" width="1" height="647" fill="#000"/>
<rect x="518" y="0" width="1" height="647" fill="#8a8a8a"/>
<rect x="519" y="0" width="1" height="647" fill="#000"/>
<rect x="0" y="645" width="518" height="1" fill="#8a8a8a"/>
<rect x="0" y="646" width="520" height="1" fill="#000"/>
<rect x="1" y="1" width="517" height="1" fill="#999"/>
<rect x="1" y="1" width="1" height="644" fill="#999"/>
</svg></div>
</body></html>
